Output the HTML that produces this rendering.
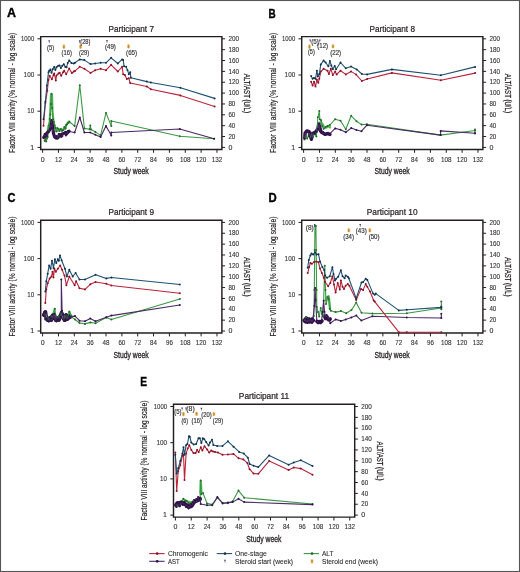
<!DOCTYPE html>
<html><head><meta charset="utf-8"><style>
html,body{margin:0;padding:0;background:#fff;}
body{width:520px;height:572px;overflow:hidden;}
svg{display:block;will-change:transform;filter:blur(0.3px);}
text{font-family:"Liberation Sans",sans-serif;}
</style></head><body>
<svg width="520" height="572" viewBox="0 0 520 572">
<rect x="0" y="0" width="520" height="572" fill="#fff"/>
<g transform="translate(0,0)">
<text x="6.90" y="16.90" font-size="12" text-anchor="start" fill="#000" stroke="#000" stroke-width="0.35" font-weight="bold" textLength="9.00" lengthAdjust="spacingAndGlyphs">A</text>
<text x="131.20" y="31.70" font-size="8.7" text-anchor="middle" fill="#231f20" stroke="#231f20" stroke-width="0.22" textLength="45.50" lengthAdjust="spacingAndGlyphs">Participant 7</text>
<path d="M40.7,36.6 H221.9 V149.4 H40.7 Z" fill="none" stroke="#231f20" stroke-width="1.45"/>
<path d="M37.5,38.80 H40.7" stroke="#231f20" stroke-width="1"/>
<text x="34.20" y="41.00" font-size="7" text-anchor="end" fill="#333" stroke="#333" stroke-width="0.12" textLength="13.20" lengthAdjust="spacingAndGlyphs">1000</text>
<path d="M37.5,75.00 H40.7" stroke="#231f20" stroke-width="1"/>
<text x="34.20" y="77.20" font-size="7" text-anchor="end" fill="#333" stroke="#333" stroke-width="0.12" textLength="10.60" lengthAdjust="spacingAndGlyphs">100</text>
<path d="M37.5,111.20 H40.7" stroke="#231f20" stroke-width="1"/>
<text x="34.20" y="113.40" font-size="7" text-anchor="end" fill="#333" stroke="#333" stroke-width="0.12" textLength="6.90" lengthAdjust="spacingAndGlyphs">10</text>
<path d="M37.5,147.40 H40.7" stroke="#231f20" stroke-width="1"/>
<text x="34.20" y="149.60" font-size="7" text-anchor="end" fill="#333" stroke="#333" stroke-width="0.12">1</text>
<path d="M221.9,147.40 H225.1" stroke="#231f20" stroke-width="1"/>
<text x="228.40" y="149.60" font-size="7" text-anchor="start" fill="#333" stroke="#333" stroke-width="0.12">0</text>
<path d="M221.9,136.54 H225.1" stroke="#231f20" stroke-width="1"/>
<text x="228.40" y="138.74" font-size="7" text-anchor="start" fill="#333" stroke="#333" stroke-width="0.12" textLength="6.90" lengthAdjust="spacingAndGlyphs">20</text>
<path d="M221.9,125.68 H225.1" stroke="#231f20" stroke-width="1"/>
<text x="228.40" y="127.88" font-size="7" text-anchor="start" fill="#333" stroke="#333" stroke-width="0.12" textLength="6.90" lengthAdjust="spacingAndGlyphs">40</text>
<path d="M221.9,114.82 H225.1" stroke="#231f20" stroke-width="1"/>
<text x="228.40" y="117.02" font-size="7" text-anchor="start" fill="#333" stroke="#333" stroke-width="0.12" textLength="6.90" lengthAdjust="spacingAndGlyphs">60</text>
<path d="M221.9,103.96 H225.1" stroke="#231f20" stroke-width="1"/>
<text x="228.40" y="106.16" font-size="7" text-anchor="start" fill="#333" stroke="#333" stroke-width="0.12" textLength="6.90" lengthAdjust="spacingAndGlyphs">80</text>
<path d="M221.9,93.10 H225.1" stroke="#231f20" stroke-width="1"/>
<text x="228.40" y="95.30" font-size="7" text-anchor="start" fill="#333" stroke="#333" stroke-width="0.12" textLength="10.60" lengthAdjust="spacingAndGlyphs">100</text>
<path d="M221.9,82.24 H225.1" stroke="#231f20" stroke-width="1"/>
<text x="228.40" y="84.44" font-size="7" text-anchor="start" fill="#333" stroke="#333" stroke-width="0.12" textLength="10.60" lengthAdjust="spacingAndGlyphs">120</text>
<path d="M221.9,71.38 H225.1" stroke="#231f20" stroke-width="1"/>
<text x="228.40" y="73.58" font-size="7" text-anchor="start" fill="#333" stroke="#333" stroke-width="0.12" textLength="10.60" lengthAdjust="spacingAndGlyphs">140</text>
<path d="M221.9,60.52 H225.1" stroke="#231f20" stroke-width="1"/>
<text x="228.40" y="62.72" font-size="7" text-anchor="start" fill="#333" stroke="#333" stroke-width="0.12" textLength="10.60" lengthAdjust="spacingAndGlyphs">160</text>
<path d="M221.9,49.66 H225.1" stroke="#231f20" stroke-width="1"/>
<text x="228.40" y="51.86" font-size="7" text-anchor="start" fill="#333" stroke="#333" stroke-width="0.12" textLength="10.60" lengthAdjust="spacingAndGlyphs">180</text>
<path d="M221.9,38.80 H225.1" stroke="#231f20" stroke-width="1"/>
<text x="228.40" y="41.00" font-size="7" text-anchor="start" fill="#333" stroke="#333" stroke-width="0.12" textLength="10.60" lengthAdjust="spacingAndGlyphs">200</text>
<path d="M42.60,149.4 V152.8" stroke="#231f20" stroke-width="1"/>
<text x="42.60" y="161.50" font-size="7" text-anchor="middle" fill="#333" stroke="#333" stroke-width="0.12">0</text>
<path d="M58.45,149.4 V152.8" stroke="#231f20" stroke-width="1"/>
<text x="58.45" y="161.50" font-size="7" text-anchor="middle" fill="#333" stroke="#333" stroke-width="0.12" textLength="6.90" lengthAdjust="spacingAndGlyphs">12</text>
<path d="M74.30,149.4 V152.8" stroke="#231f20" stroke-width="1"/>
<text x="74.30" y="161.50" font-size="7" text-anchor="middle" fill="#333" stroke="#333" stroke-width="0.12" textLength="6.90" lengthAdjust="spacingAndGlyphs">24</text>
<path d="M90.16,149.4 V152.8" stroke="#231f20" stroke-width="1"/>
<text x="90.16" y="161.50" font-size="7" text-anchor="middle" fill="#333" stroke="#333" stroke-width="0.12" textLength="6.90" lengthAdjust="spacingAndGlyphs">36</text>
<path d="M106.01,149.4 V152.8" stroke="#231f20" stroke-width="1"/>
<text x="106.01" y="161.50" font-size="7" text-anchor="middle" fill="#333" stroke="#333" stroke-width="0.12" textLength="6.90" lengthAdjust="spacingAndGlyphs">48</text>
<path d="M121.86,149.4 V152.8" stroke="#231f20" stroke-width="1"/>
<text x="121.86" y="161.50" font-size="7" text-anchor="middle" fill="#333" stroke="#333" stroke-width="0.12" textLength="6.90" lengthAdjust="spacingAndGlyphs">60</text>
<path d="M137.71,149.4 V152.8" stroke="#231f20" stroke-width="1"/>
<text x="137.71" y="161.50" font-size="7" text-anchor="middle" fill="#333" stroke="#333" stroke-width="0.12" textLength="6.90" lengthAdjust="spacingAndGlyphs">72</text>
<path d="M153.56,149.4 V152.8" stroke="#231f20" stroke-width="1"/>
<text x="153.56" y="161.50" font-size="7" text-anchor="middle" fill="#333" stroke="#333" stroke-width="0.12" textLength="6.90" lengthAdjust="spacingAndGlyphs">84</text>
<path d="M169.42,149.4 V152.8" stroke="#231f20" stroke-width="1"/>
<text x="169.42" y="161.50" font-size="7" text-anchor="middle" fill="#333" stroke="#333" stroke-width="0.12" textLength="6.90" lengthAdjust="spacingAndGlyphs">96</text>
<path d="M185.27,149.4 V152.8" stroke="#231f20" stroke-width="1"/>
<text x="185.27" y="161.50" font-size="7" text-anchor="middle" fill="#333" stroke="#333" stroke-width="0.12" textLength="10.60" lengthAdjust="spacingAndGlyphs">108</text>
<path d="M201.12,149.4 V152.8" stroke="#231f20" stroke-width="1"/>
<text x="201.12" y="161.50" font-size="7" text-anchor="middle" fill="#333" stroke="#333" stroke-width="0.12" textLength="10.60" lengthAdjust="spacingAndGlyphs">120</text>
<path d="M216.97,149.4 V152.8" stroke="#231f20" stroke-width="1"/>
<text x="216.97" y="161.50" font-size="7" text-anchor="middle" fill="#333" stroke="#333" stroke-width="0.12" textLength="10.60" lengthAdjust="spacingAndGlyphs">132</text>
<text x="131.10" y="174.20" font-size="9" text-anchor="middle" fill="#231f20" stroke="#231f20" stroke-width="0.3" textLength="35.20" lengthAdjust="spacingAndGlyphs">Study week</text>
<text transform="translate(14.6,92.9) rotate(-90)" x="0.00" y="0.00" font-size="8.8" text-anchor="middle" fill="#231f20" stroke="#231f20" stroke-width="0.18" textLength="120.00" lengthAdjust="spacingAndGlyphs">Factor VIII activity (% normal - log scale)</text>
<text transform="translate(244.2,93.3) rotate(90)" x="0.00" y="0.00" font-size="8.6" text-anchor="middle" fill="#231f20" stroke="#231f20" stroke-width="0.28" textLength="39.20" lengthAdjust="spacingAndGlyphs">ALT/AST (U/L)</text>
</g>
<g transform="translate(261,0)">
<text x="7.40" y="17.90" font-size="12" text-anchor="start" fill="#000" stroke="#000" stroke-width="0.35" font-weight="bold" textLength="7.20" lengthAdjust="spacingAndGlyphs">B</text>
<text x="131.20" y="31.70" font-size="8.7" text-anchor="middle" fill="#231f20" stroke="#231f20" stroke-width="0.22" textLength="45.50" lengthAdjust="spacingAndGlyphs">Participant 8</text>
<path d="M40.7,36.6 H221.9 V149.4 H40.7 Z" fill="none" stroke="#231f20" stroke-width="1.45"/>
<path d="M37.5,38.80 H40.7" stroke="#231f20" stroke-width="1"/>
<text x="34.20" y="41.00" font-size="7" text-anchor="end" fill="#333" stroke="#333" stroke-width="0.12" textLength="13.20" lengthAdjust="spacingAndGlyphs">1000</text>
<path d="M37.5,75.00 H40.7" stroke="#231f20" stroke-width="1"/>
<text x="34.20" y="77.20" font-size="7" text-anchor="end" fill="#333" stroke="#333" stroke-width="0.12" textLength="10.60" lengthAdjust="spacingAndGlyphs">100</text>
<path d="M37.5,111.20 H40.7" stroke="#231f20" stroke-width="1"/>
<text x="34.20" y="113.40" font-size="7" text-anchor="end" fill="#333" stroke="#333" stroke-width="0.12" textLength="6.90" lengthAdjust="spacingAndGlyphs">10</text>
<path d="M37.5,147.40 H40.7" stroke="#231f20" stroke-width="1"/>
<text x="34.20" y="149.60" font-size="7" text-anchor="end" fill="#333" stroke="#333" stroke-width="0.12">1</text>
<path d="M221.9,147.40 H225.1" stroke="#231f20" stroke-width="1"/>
<text x="228.40" y="149.60" font-size="7" text-anchor="start" fill="#333" stroke="#333" stroke-width="0.12">0</text>
<path d="M221.9,136.54 H225.1" stroke="#231f20" stroke-width="1"/>
<text x="228.40" y="138.74" font-size="7" text-anchor="start" fill="#333" stroke="#333" stroke-width="0.12" textLength="6.90" lengthAdjust="spacingAndGlyphs">20</text>
<path d="M221.9,125.68 H225.1" stroke="#231f20" stroke-width="1"/>
<text x="228.40" y="127.88" font-size="7" text-anchor="start" fill="#333" stroke="#333" stroke-width="0.12" textLength="6.90" lengthAdjust="spacingAndGlyphs">40</text>
<path d="M221.9,114.82 H225.1" stroke="#231f20" stroke-width="1"/>
<text x="228.40" y="117.02" font-size="7" text-anchor="start" fill="#333" stroke="#333" stroke-width="0.12" textLength="6.90" lengthAdjust="spacingAndGlyphs">60</text>
<path d="M221.9,103.96 H225.1" stroke="#231f20" stroke-width="1"/>
<text x="228.40" y="106.16" font-size="7" text-anchor="start" fill="#333" stroke="#333" stroke-width="0.12" textLength="6.90" lengthAdjust="spacingAndGlyphs">80</text>
<path d="M221.9,93.10 H225.1" stroke="#231f20" stroke-width="1"/>
<text x="228.40" y="95.30" font-size="7" text-anchor="start" fill="#333" stroke="#333" stroke-width="0.12" textLength="10.60" lengthAdjust="spacingAndGlyphs">100</text>
<path d="M221.9,82.24 H225.1" stroke="#231f20" stroke-width="1"/>
<text x="228.40" y="84.44" font-size="7" text-anchor="start" fill="#333" stroke="#333" stroke-width="0.12" textLength="10.60" lengthAdjust="spacingAndGlyphs">120</text>
<path d="M221.9,71.38 H225.1" stroke="#231f20" stroke-width="1"/>
<text x="228.40" y="73.58" font-size="7" text-anchor="start" fill="#333" stroke="#333" stroke-width="0.12" textLength="10.60" lengthAdjust="spacingAndGlyphs">140</text>
<path d="M221.9,60.52 H225.1" stroke="#231f20" stroke-width="1"/>
<text x="228.40" y="62.72" font-size="7" text-anchor="start" fill="#333" stroke="#333" stroke-width="0.12" textLength="10.60" lengthAdjust="spacingAndGlyphs">160</text>
<path d="M221.9,49.66 H225.1" stroke="#231f20" stroke-width="1"/>
<text x="228.40" y="51.86" font-size="7" text-anchor="start" fill="#333" stroke="#333" stroke-width="0.12" textLength="10.60" lengthAdjust="spacingAndGlyphs">180</text>
<path d="M221.9,38.80 H225.1" stroke="#231f20" stroke-width="1"/>
<text x="228.40" y="41.00" font-size="7" text-anchor="start" fill="#333" stroke="#333" stroke-width="0.12" textLength="10.60" lengthAdjust="spacingAndGlyphs">200</text>
<path d="M42.60,149.4 V152.8" stroke="#231f20" stroke-width="1"/>
<text x="42.60" y="161.50" font-size="7" text-anchor="middle" fill="#333" stroke="#333" stroke-width="0.12">0</text>
<path d="M58.45,149.4 V152.8" stroke="#231f20" stroke-width="1"/>
<text x="58.45" y="161.50" font-size="7" text-anchor="middle" fill="#333" stroke="#333" stroke-width="0.12" textLength="6.90" lengthAdjust="spacingAndGlyphs">12</text>
<path d="M74.30,149.4 V152.8" stroke="#231f20" stroke-width="1"/>
<text x="74.30" y="161.50" font-size="7" text-anchor="middle" fill="#333" stroke="#333" stroke-width="0.12" textLength="6.90" lengthAdjust="spacingAndGlyphs">24</text>
<path d="M90.16,149.4 V152.8" stroke="#231f20" stroke-width="1"/>
<text x="90.16" y="161.50" font-size="7" text-anchor="middle" fill="#333" stroke="#333" stroke-width="0.12" textLength="6.90" lengthAdjust="spacingAndGlyphs">36</text>
<path d="M106.01,149.4 V152.8" stroke="#231f20" stroke-width="1"/>
<text x="106.01" y="161.50" font-size="7" text-anchor="middle" fill="#333" stroke="#333" stroke-width="0.12" textLength="6.90" lengthAdjust="spacingAndGlyphs">48</text>
<path d="M121.86,149.4 V152.8" stroke="#231f20" stroke-width="1"/>
<text x="121.86" y="161.50" font-size="7" text-anchor="middle" fill="#333" stroke="#333" stroke-width="0.12" textLength="6.90" lengthAdjust="spacingAndGlyphs">60</text>
<path d="M137.71,149.4 V152.8" stroke="#231f20" stroke-width="1"/>
<text x="137.71" y="161.50" font-size="7" text-anchor="middle" fill="#333" stroke="#333" stroke-width="0.12" textLength="6.90" lengthAdjust="spacingAndGlyphs">72</text>
<path d="M153.56,149.4 V152.8" stroke="#231f20" stroke-width="1"/>
<text x="153.56" y="161.50" font-size="7" text-anchor="middle" fill="#333" stroke="#333" stroke-width="0.12" textLength="6.90" lengthAdjust="spacingAndGlyphs">84</text>
<path d="M169.42,149.4 V152.8" stroke="#231f20" stroke-width="1"/>
<text x="169.42" y="161.50" font-size="7" text-anchor="middle" fill="#333" stroke="#333" stroke-width="0.12" textLength="6.90" lengthAdjust="spacingAndGlyphs">96</text>
<path d="M185.27,149.4 V152.8" stroke="#231f20" stroke-width="1"/>
<text x="185.27" y="161.50" font-size="7" text-anchor="middle" fill="#333" stroke="#333" stroke-width="0.12" textLength="10.60" lengthAdjust="spacingAndGlyphs">108</text>
<path d="M201.12,149.4 V152.8" stroke="#231f20" stroke-width="1"/>
<text x="201.12" y="161.50" font-size="7" text-anchor="middle" fill="#333" stroke="#333" stroke-width="0.12" textLength="10.60" lengthAdjust="spacingAndGlyphs">120</text>
<path d="M216.97,149.4 V152.8" stroke="#231f20" stroke-width="1"/>
<text x="216.97" y="161.50" font-size="7" text-anchor="middle" fill="#333" stroke="#333" stroke-width="0.12" textLength="10.60" lengthAdjust="spacingAndGlyphs">132</text>
<text x="131.10" y="174.20" font-size="9" text-anchor="middle" fill="#231f20" stroke="#231f20" stroke-width="0.3" textLength="35.20" lengthAdjust="spacingAndGlyphs">Study week</text>
<text transform="translate(14.6,92.9) rotate(-90)" x="0.00" y="0.00" font-size="8.8" text-anchor="middle" fill="#231f20" stroke="#231f20" stroke-width="0.18" textLength="120.00" lengthAdjust="spacingAndGlyphs">Factor VIII activity (% normal - log scale)</text>
<text transform="translate(244.2,93.3) rotate(90)" x="0.00" y="0.00" font-size="8.6" text-anchor="middle" fill="#231f20" stroke="#231f20" stroke-width="0.28" textLength="39.20" lengthAdjust="spacingAndGlyphs">ALT/AST (U/L)</text>
</g>
<g transform="translate(0,183.6)">
<text x="7.40" y="18.00" font-size="12" text-anchor="start" fill="#000" stroke="#000" stroke-width="0.35" font-weight="bold" textLength="8.00" lengthAdjust="spacingAndGlyphs">C</text>
<text x="131.20" y="31.70" font-size="8.7" text-anchor="middle" fill="#231f20" stroke="#231f20" stroke-width="0.22" textLength="45.50" lengthAdjust="spacingAndGlyphs">Participant 9</text>
<path d="M40.7,36.6 H221.9 V149.4 H40.7 Z" fill="none" stroke="#231f20" stroke-width="1.45"/>
<path d="M37.5,38.80 H40.7" stroke="#231f20" stroke-width="1"/>
<text x="34.20" y="41.00" font-size="7" text-anchor="end" fill="#333" stroke="#333" stroke-width="0.12" textLength="13.20" lengthAdjust="spacingAndGlyphs">1000</text>
<path d="M37.5,75.00 H40.7" stroke="#231f20" stroke-width="1"/>
<text x="34.20" y="77.20" font-size="7" text-anchor="end" fill="#333" stroke="#333" stroke-width="0.12" textLength="10.60" lengthAdjust="spacingAndGlyphs">100</text>
<path d="M37.5,111.20 H40.7" stroke="#231f20" stroke-width="1"/>
<text x="34.20" y="113.40" font-size="7" text-anchor="end" fill="#333" stroke="#333" stroke-width="0.12" textLength="6.90" lengthAdjust="spacingAndGlyphs">10</text>
<path d="M37.5,147.40 H40.7" stroke="#231f20" stroke-width="1"/>
<text x="34.20" y="149.60" font-size="7" text-anchor="end" fill="#333" stroke="#333" stroke-width="0.12">1</text>
<path d="M221.9,147.40 H225.1" stroke="#231f20" stroke-width="1"/>
<text x="228.40" y="149.60" font-size="7" text-anchor="start" fill="#333" stroke="#333" stroke-width="0.12">0</text>
<path d="M221.9,136.54 H225.1" stroke="#231f20" stroke-width="1"/>
<text x="228.40" y="138.74" font-size="7" text-anchor="start" fill="#333" stroke="#333" stroke-width="0.12" textLength="6.90" lengthAdjust="spacingAndGlyphs">20</text>
<path d="M221.9,125.68 H225.1" stroke="#231f20" stroke-width="1"/>
<text x="228.40" y="127.88" font-size="7" text-anchor="start" fill="#333" stroke="#333" stroke-width="0.12" textLength="6.90" lengthAdjust="spacingAndGlyphs">40</text>
<path d="M221.9,114.82 H225.1" stroke="#231f20" stroke-width="1"/>
<text x="228.40" y="117.02" font-size="7" text-anchor="start" fill="#333" stroke="#333" stroke-width="0.12" textLength="6.90" lengthAdjust="spacingAndGlyphs">60</text>
<path d="M221.9,103.96 H225.1" stroke="#231f20" stroke-width="1"/>
<text x="228.40" y="106.16" font-size="7" text-anchor="start" fill="#333" stroke="#333" stroke-width="0.12" textLength="6.90" lengthAdjust="spacingAndGlyphs">80</text>
<path d="M221.9,93.10 H225.1" stroke="#231f20" stroke-width="1"/>
<text x="228.40" y="95.30" font-size="7" text-anchor="start" fill="#333" stroke="#333" stroke-width="0.12" textLength="10.60" lengthAdjust="spacingAndGlyphs">100</text>
<path d="M221.9,82.24 H225.1" stroke="#231f20" stroke-width="1"/>
<text x="228.40" y="84.44" font-size="7" text-anchor="start" fill="#333" stroke="#333" stroke-width="0.12" textLength="10.60" lengthAdjust="spacingAndGlyphs">120</text>
<path d="M221.9,71.38 H225.1" stroke="#231f20" stroke-width="1"/>
<text x="228.40" y="73.58" font-size="7" text-anchor="start" fill="#333" stroke="#333" stroke-width="0.12" textLength="10.60" lengthAdjust="spacingAndGlyphs">140</text>
<path d="M221.9,60.52 H225.1" stroke="#231f20" stroke-width="1"/>
<text x="228.40" y="62.72" font-size="7" text-anchor="start" fill="#333" stroke="#333" stroke-width="0.12" textLength="10.60" lengthAdjust="spacingAndGlyphs">160</text>
<path d="M221.9,49.66 H225.1" stroke="#231f20" stroke-width="1"/>
<text x="228.40" y="51.86" font-size="7" text-anchor="start" fill="#333" stroke="#333" stroke-width="0.12" textLength="10.60" lengthAdjust="spacingAndGlyphs">180</text>
<path d="M221.9,38.80 H225.1" stroke="#231f20" stroke-width="1"/>
<text x="228.40" y="41.00" font-size="7" text-anchor="start" fill="#333" stroke="#333" stroke-width="0.12" textLength="10.60" lengthAdjust="spacingAndGlyphs">200</text>
<path d="M42.60,149.4 V152.8" stroke="#231f20" stroke-width="1"/>
<text x="42.60" y="161.50" font-size="7" text-anchor="middle" fill="#333" stroke="#333" stroke-width="0.12">0</text>
<path d="M58.45,149.4 V152.8" stroke="#231f20" stroke-width="1"/>
<text x="58.45" y="161.50" font-size="7" text-anchor="middle" fill="#333" stroke="#333" stroke-width="0.12" textLength="6.90" lengthAdjust="spacingAndGlyphs">12</text>
<path d="M74.30,149.4 V152.8" stroke="#231f20" stroke-width="1"/>
<text x="74.30" y="161.50" font-size="7" text-anchor="middle" fill="#333" stroke="#333" stroke-width="0.12" textLength="6.90" lengthAdjust="spacingAndGlyphs">24</text>
<path d="M90.16,149.4 V152.8" stroke="#231f20" stroke-width="1"/>
<text x="90.16" y="161.50" font-size="7" text-anchor="middle" fill="#333" stroke="#333" stroke-width="0.12" textLength="6.90" lengthAdjust="spacingAndGlyphs">36</text>
<path d="M106.01,149.4 V152.8" stroke="#231f20" stroke-width="1"/>
<text x="106.01" y="161.50" font-size="7" text-anchor="middle" fill="#333" stroke="#333" stroke-width="0.12" textLength="6.90" lengthAdjust="spacingAndGlyphs">48</text>
<path d="M121.86,149.4 V152.8" stroke="#231f20" stroke-width="1"/>
<text x="121.86" y="161.50" font-size="7" text-anchor="middle" fill="#333" stroke="#333" stroke-width="0.12" textLength="6.90" lengthAdjust="spacingAndGlyphs">60</text>
<path d="M137.71,149.4 V152.8" stroke="#231f20" stroke-width="1"/>
<text x="137.71" y="161.50" font-size="7" text-anchor="middle" fill="#333" stroke="#333" stroke-width="0.12" textLength="6.90" lengthAdjust="spacingAndGlyphs">72</text>
<path d="M153.56,149.4 V152.8" stroke="#231f20" stroke-width="1"/>
<text x="153.56" y="161.50" font-size="7" text-anchor="middle" fill="#333" stroke="#333" stroke-width="0.12" textLength="6.90" lengthAdjust="spacingAndGlyphs">84</text>
<path d="M169.42,149.4 V152.8" stroke="#231f20" stroke-width="1"/>
<text x="169.42" y="161.50" font-size="7" text-anchor="middle" fill="#333" stroke="#333" stroke-width="0.12" textLength="6.90" lengthAdjust="spacingAndGlyphs">96</text>
<path d="M185.27,149.4 V152.8" stroke="#231f20" stroke-width="1"/>
<text x="185.27" y="161.50" font-size="7" text-anchor="middle" fill="#333" stroke="#333" stroke-width="0.12" textLength="10.60" lengthAdjust="spacingAndGlyphs">108</text>
<path d="M201.12,149.4 V152.8" stroke="#231f20" stroke-width="1"/>
<text x="201.12" y="161.50" font-size="7" text-anchor="middle" fill="#333" stroke="#333" stroke-width="0.12" textLength="10.60" lengthAdjust="spacingAndGlyphs">120</text>
<path d="M216.97,149.4 V152.8" stroke="#231f20" stroke-width="1"/>
<text x="216.97" y="161.50" font-size="7" text-anchor="middle" fill="#333" stroke="#333" stroke-width="0.12" textLength="10.60" lengthAdjust="spacingAndGlyphs">132</text>
<text x="131.10" y="174.20" font-size="9" text-anchor="middle" fill="#231f20" stroke="#231f20" stroke-width="0.3" textLength="35.20" lengthAdjust="spacingAndGlyphs">Study week</text>
<text transform="translate(14.6,92.9) rotate(-90)" x="0.00" y="0.00" font-size="8.8" text-anchor="middle" fill="#231f20" stroke="#231f20" stroke-width="0.18" textLength="120.00" lengthAdjust="spacingAndGlyphs">Factor VIII activity (% normal - log scale)</text>
<text transform="translate(244.2,93.3) rotate(90)" x="0.00" y="0.00" font-size="8.6" text-anchor="middle" fill="#231f20" stroke="#231f20" stroke-width="0.28" textLength="39.20" lengthAdjust="spacingAndGlyphs">ALT/AST (U/L)</text>
</g>
<g transform="translate(261,183.6)">
<text x="7.60" y="18.00" font-size="12" text-anchor="start" fill="#000" stroke="#000" stroke-width="0.35" font-weight="bold" textLength="8.20" lengthAdjust="spacingAndGlyphs">D</text>
<text x="131.20" y="31.70" font-size="8.7" text-anchor="middle" fill="#231f20" stroke="#231f20" stroke-width="0.22" textLength="50.80" lengthAdjust="spacingAndGlyphs">Participant 10</text>
<path d="M40.7,36.6 H221.9 V149.4 H40.7 Z" fill="none" stroke="#231f20" stroke-width="1.45"/>
<path d="M37.5,38.80 H40.7" stroke="#231f20" stroke-width="1"/>
<text x="34.20" y="41.00" font-size="7" text-anchor="end" fill="#333" stroke="#333" stroke-width="0.12" textLength="13.20" lengthAdjust="spacingAndGlyphs">1000</text>
<path d="M37.5,75.00 H40.7" stroke="#231f20" stroke-width="1"/>
<text x="34.20" y="77.20" font-size="7" text-anchor="end" fill="#333" stroke="#333" stroke-width="0.12" textLength="10.60" lengthAdjust="spacingAndGlyphs">100</text>
<path d="M37.5,111.20 H40.7" stroke="#231f20" stroke-width="1"/>
<text x="34.20" y="113.40" font-size="7" text-anchor="end" fill="#333" stroke="#333" stroke-width="0.12" textLength="6.90" lengthAdjust="spacingAndGlyphs">10</text>
<path d="M37.5,147.40 H40.7" stroke="#231f20" stroke-width="1"/>
<text x="34.20" y="149.60" font-size="7" text-anchor="end" fill="#333" stroke="#333" stroke-width="0.12">1</text>
<path d="M221.9,147.40 H225.1" stroke="#231f20" stroke-width="1"/>
<text x="228.40" y="149.60" font-size="7" text-anchor="start" fill="#333" stroke="#333" stroke-width="0.12">0</text>
<path d="M221.9,136.54 H225.1" stroke="#231f20" stroke-width="1"/>
<text x="228.40" y="138.74" font-size="7" text-anchor="start" fill="#333" stroke="#333" stroke-width="0.12" textLength="6.90" lengthAdjust="spacingAndGlyphs">20</text>
<path d="M221.9,125.68 H225.1" stroke="#231f20" stroke-width="1"/>
<text x="228.40" y="127.88" font-size="7" text-anchor="start" fill="#333" stroke="#333" stroke-width="0.12" textLength="6.90" lengthAdjust="spacingAndGlyphs">40</text>
<path d="M221.9,114.82 H225.1" stroke="#231f20" stroke-width="1"/>
<text x="228.40" y="117.02" font-size="7" text-anchor="start" fill="#333" stroke="#333" stroke-width="0.12" textLength="6.90" lengthAdjust="spacingAndGlyphs">60</text>
<path d="M221.9,103.96 H225.1" stroke="#231f20" stroke-width="1"/>
<text x="228.40" y="106.16" font-size="7" text-anchor="start" fill="#333" stroke="#333" stroke-width="0.12" textLength="6.90" lengthAdjust="spacingAndGlyphs">80</text>
<path d="M221.9,93.10 H225.1" stroke="#231f20" stroke-width="1"/>
<text x="228.40" y="95.30" font-size="7" text-anchor="start" fill="#333" stroke="#333" stroke-width="0.12" textLength="10.60" lengthAdjust="spacingAndGlyphs">100</text>
<path d="M221.9,82.24 H225.1" stroke="#231f20" stroke-width="1"/>
<text x="228.40" y="84.44" font-size="7" text-anchor="start" fill="#333" stroke="#333" stroke-width="0.12" textLength="10.60" lengthAdjust="spacingAndGlyphs">120</text>
<path d="M221.9,71.38 H225.1" stroke="#231f20" stroke-width="1"/>
<text x="228.40" y="73.58" font-size="7" text-anchor="start" fill="#333" stroke="#333" stroke-width="0.12" textLength="10.60" lengthAdjust="spacingAndGlyphs">140</text>
<path d="M221.9,60.52 H225.1" stroke="#231f20" stroke-width="1"/>
<text x="228.40" y="62.72" font-size="7" text-anchor="start" fill="#333" stroke="#333" stroke-width="0.12" textLength="10.60" lengthAdjust="spacingAndGlyphs">160</text>
<path d="M221.9,49.66 H225.1" stroke="#231f20" stroke-width="1"/>
<text x="228.40" y="51.86" font-size="7" text-anchor="start" fill="#333" stroke="#333" stroke-width="0.12" textLength="10.60" lengthAdjust="spacingAndGlyphs">180</text>
<path d="M221.9,38.80 H225.1" stroke="#231f20" stroke-width="1"/>
<text x="228.40" y="41.00" font-size="7" text-anchor="start" fill="#333" stroke="#333" stroke-width="0.12" textLength="10.60" lengthAdjust="spacingAndGlyphs">200</text>
<path d="M42.60,149.4 V152.8" stroke="#231f20" stroke-width="1"/>
<text x="42.60" y="161.50" font-size="7" text-anchor="middle" fill="#333" stroke="#333" stroke-width="0.12">0</text>
<path d="M58.45,149.4 V152.8" stroke="#231f20" stroke-width="1"/>
<text x="58.45" y="161.50" font-size="7" text-anchor="middle" fill="#333" stroke="#333" stroke-width="0.12" textLength="6.90" lengthAdjust="spacingAndGlyphs">12</text>
<path d="M74.30,149.4 V152.8" stroke="#231f20" stroke-width="1"/>
<text x="74.30" y="161.50" font-size="7" text-anchor="middle" fill="#333" stroke="#333" stroke-width="0.12" textLength="6.90" lengthAdjust="spacingAndGlyphs">24</text>
<path d="M90.16,149.4 V152.8" stroke="#231f20" stroke-width="1"/>
<text x="90.16" y="161.50" font-size="7" text-anchor="middle" fill="#333" stroke="#333" stroke-width="0.12" textLength="6.90" lengthAdjust="spacingAndGlyphs">36</text>
<path d="M106.01,149.4 V152.8" stroke="#231f20" stroke-width="1"/>
<text x="106.01" y="161.50" font-size="7" text-anchor="middle" fill="#333" stroke="#333" stroke-width="0.12" textLength="6.90" lengthAdjust="spacingAndGlyphs">48</text>
<path d="M121.86,149.4 V152.8" stroke="#231f20" stroke-width="1"/>
<text x="121.86" y="161.50" font-size="7" text-anchor="middle" fill="#333" stroke="#333" stroke-width="0.12" textLength="6.90" lengthAdjust="spacingAndGlyphs">60</text>
<path d="M137.71,149.4 V152.8" stroke="#231f20" stroke-width="1"/>
<text x="137.71" y="161.50" font-size="7" text-anchor="middle" fill="#333" stroke="#333" stroke-width="0.12" textLength="6.90" lengthAdjust="spacingAndGlyphs">72</text>
<path d="M153.56,149.4 V152.8" stroke="#231f20" stroke-width="1"/>
<text x="153.56" y="161.50" font-size="7" text-anchor="middle" fill="#333" stroke="#333" stroke-width="0.12" textLength="6.90" lengthAdjust="spacingAndGlyphs">84</text>
<path d="M169.42,149.4 V152.8" stroke="#231f20" stroke-width="1"/>
<text x="169.42" y="161.50" font-size="7" text-anchor="middle" fill="#333" stroke="#333" stroke-width="0.12" textLength="6.90" lengthAdjust="spacingAndGlyphs">96</text>
<path d="M185.27,149.4 V152.8" stroke="#231f20" stroke-width="1"/>
<text x="185.27" y="161.50" font-size="7" text-anchor="middle" fill="#333" stroke="#333" stroke-width="0.12" textLength="10.60" lengthAdjust="spacingAndGlyphs">108</text>
<path d="M201.12,149.4 V152.8" stroke="#231f20" stroke-width="1"/>
<text x="201.12" y="161.50" font-size="7" text-anchor="middle" fill="#333" stroke="#333" stroke-width="0.12" textLength="10.60" lengthAdjust="spacingAndGlyphs">120</text>
<path d="M216.97,149.4 V152.8" stroke="#231f20" stroke-width="1"/>
<text x="216.97" y="161.50" font-size="7" text-anchor="middle" fill="#333" stroke="#333" stroke-width="0.12" textLength="10.60" lengthAdjust="spacingAndGlyphs">132</text>
<text x="131.10" y="174.20" font-size="9" text-anchor="middle" fill="#231f20" stroke="#231f20" stroke-width="0.3" textLength="35.20" lengthAdjust="spacingAndGlyphs">Study week</text>
<text transform="translate(14.6,92.9) rotate(-90)" x="0.00" y="0.00" font-size="8.8" text-anchor="middle" fill="#231f20" stroke="#231f20" stroke-width="0.18" textLength="120.00" lengthAdjust="spacingAndGlyphs">Factor VIII activity (% normal - log scale)</text>
<text transform="translate(244.2,93.3) rotate(90)" x="0.00" y="0.00" font-size="8.6" text-anchor="middle" fill="#231f20" stroke="#231f20" stroke-width="0.28" textLength="39.20" lengthAdjust="spacingAndGlyphs">ALT/AST (U/L)</text>
</g>
<g transform="translate(132.8,367.7)">
<text x="7.40" y="18.10" font-size="12" text-anchor="start" fill="#000" stroke="#000" stroke-width="0.35" font-weight="bold" textLength="6.80" lengthAdjust="spacingAndGlyphs">E</text>
<text x="131.20" y="31.70" font-size="8.7" text-anchor="middle" fill="#231f20" stroke="#231f20" stroke-width="0.22" textLength="50.30" lengthAdjust="spacingAndGlyphs">Participant 11</text>
<path d="M40.7,36.6 H221.9 V149.4 H40.7 Z" fill="none" stroke="#231f20" stroke-width="1.45"/>
<path d="M37.5,38.80 H40.7" stroke="#231f20" stroke-width="1"/>
<text x="34.20" y="41.00" font-size="7" text-anchor="end" fill="#333" stroke="#333" stroke-width="0.12" textLength="13.20" lengthAdjust="spacingAndGlyphs">1000</text>
<path d="M37.5,75.00 H40.7" stroke="#231f20" stroke-width="1"/>
<text x="34.20" y="77.20" font-size="7" text-anchor="end" fill="#333" stroke="#333" stroke-width="0.12" textLength="10.60" lengthAdjust="spacingAndGlyphs">100</text>
<path d="M37.5,111.20 H40.7" stroke="#231f20" stroke-width="1"/>
<text x="34.20" y="113.40" font-size="7" text-anchor="end" fill="#333" stroke="#333" stroke-width="0.12" textLength="6.90" lengthAdjust="spacingAndGlyphs">10</text>
<path d="M37.5,147.40 H40.7" stroke="#231f20" stroke-width="1"/>
<text x="34.20" y="149.60" font-size="7" text-anchor="end" fill="#333" stroke="#333" stroke-width="0.12">1</text>
<path d="M221.9,147.40 H225.1" stroke="#231f20" stroke-width="1"/>
<text x="228.40" y="149.60" font-size="7" text-anchor="start" fill="#333" stroke="#333" stroke-width="0.12">0</text>
<path d="M221.9,136.54 H225.1" stroke="#231f20" stroke-width="1"/>
<text x="228.40" y="138.74" font-size="7" text-anchor="start" fill="#333" stroke="#333" stroke-width="0.12" textLength="6.90" lengthAdjust="spacingAndGlyphs">20</text>
<path d="M221.9,125.68 H225.1" stroke="#231f20" stroke-width="1"/>
<text x="228.40" y="127.88" font-size="7" text-anchor="start" fill="#333" stroke="#333" stroke-width="0.12" textLength="6.90" lengthAdjust="spacingAndGlyphs">40</text>
<path d="M221.9,114.82 H225.1" stroke="#231f20" stroke-width="1"/>
<text x="228.40" y="117.02" font-size="7" text-anchor="start" fill="#333" stroke="#333" stroke-width="0.12" textLength="6.90" lengthAdjust="spacingAndGlyphs">60</text>
<path d="M221.9,103.96 H225.1" stroke="#231f20" stroke-width="1"/>
<text x="228.40" y="106.16" font-size="7" text-anchor="start" fill="#333" stroke="#333" stroke-width="0.12" textLength="6.90" lengthAdjust="spacingAndGlyphs">80</text>
<path d="M221.9,93.10 H225.1" stroke="#231f20" stroke-width="1"/>
<text x="228.40" y="95.30" font-size="7" text-anchor="start" fill="#333" stroke="#333" stroke-width="0.12" textLength="10.60" lengthAdjust="spacingAndGlyphs">100</text>
<path d="M221.9,82.24 H225.1" stroke="#231f20" stroke-width="1"/>
<text x="228.40" y="84.44" font-size="7" text-anchor="start" fill="#333" stroke="#333" stroke-width="0.12" textLength="10.60" lengthAdjust="spacingAndGlyphs">120</text>
<path d="M221.9,71.38 H225.1" stroke="#231f20" stroke-width="1"/>
<text x="228.40" y="73.58" font-size="7" text-anchor="start" fill="#333" stroke="#333" stroke-width="0.12" textLength="10.60" lengthAdjust="spacingAndGlyphs">140</text>
<path d="M221.9,60.52 H225.1" stroke="#231f20" stroke-width="1"/>
<text x="228.40" y="62.72" font-size="7" text-anchor="start" fill="#333" stroke="#333" stroke-width="0.12" textLength="10.60" lengthAdjust="spacingAndGlyphs">160</text>
<path d="M221.9,49.66 H225.1" stroke="#231f20" stroke-width="1"/>
<text x="228.40" y="51.86" font-size="7" text-anchor="start" fill="#333" stroke="#333" stroke-width="0.12" textLength="10.60" lengthAdjust="spacingAndGlyphs">180</text>
<path d="M221.9,38.80 H225.1" stroke="#231f20" stroke-width="1"/>
<text x="228.40" y="41.00" font-size="7" text-anchor="start" fill="#333" stroke="#333" stroke-width="0.12" textLength="10.60" lengthAdjust="spacingAndGlyphs">200</text>
<path d="M42.60,149.4 V152.8" stroke="#231f20" stroke-width="1"/>
<text x="42.60" y="161.50" font-size="7" text-anchor="middle" fill="#333" stroke="#333" stroke-width="0.12">0</text>
<path d="M58.45,149.4 V152.8" stroke="#231f20" stroke-width="1"/>
<text x="58.45" y="161.50" font-size="7" text-anchor="middle" fill="#333" stroke="#333" stroke-width="0.12" textLength="6.90" lengthAdjust="spacingAndGlyphs">12</text>
<path d="M74.30,149.4 V152.8" stroke="#231f20" stroke-width="1"/>
<text x="74.30" y="161.50" font-size="7" text-anchor="middle" fill="#333" stroke="#333" stroke-width="0.12" textLength="6.90" lengthAdjust="spacingAndGlyphs">24</text>
<path d="M90.16,149.4 V152.8" stroke="#231f20" stroke-width="1"/>
<text x="90.16" y="161.50" font-size="7" text-anchor="middle" fill="#333" stroke="#333" stroke-width="0.12" textLength="6.90" lengthAdjust="spacingAndGlyphs">36</text>
<path d="M106.01,149.4 V152.8" stroke="#231f20" stroke-width="1"/>
<text x="106.01" y="161.50" font-size="7" text-anchor="middle" fill="#333" stroke="#333" stroke-width="0.12" textLength="6.90" lengthAdjust="spacingAndGlyphs">48</text>
<path d="M121.86,149.4 V152.8" stroke="#231f20" stroke-width="1"/>
<text x="121.86" y="161.50" font-size="7" text-anchor="middle" fill="#333" stroke="#333" stroke-width="0.12" textLength="6.90" lengthAdjust="spacingAndGlyphs">60</text>
<path d="M137.71,149.4 V152.8" stroke="#231f20" stroke-width="1"/>
<text x="137.71" y="161.50" font-size="7" text-anchor="middle" fill="#333" stroke="#333" stroke-width="0.12" textLength="6.90" lengthAdjust="spacingAndGlyphs">72</text>
<path d="M153.56,149.4 V152.8" stroke="#231f20" stroke-width="1"/>
<text x="153.56" y="161.50" font-size="7" text-anchor="middle" fill="#333" stroke="#333" stroke-width="0.12" textLength="6.90" lengthAdjust="spacingAndGlyphs">84</text>
<path d="M169.42,149.4 V152.8" stroke="#231f20" stroke-width="1"/>
<text x="169.42" y="161.50" font-size="7" text-anchor="middle" fill="#333" stroke="#333" stroke-width="0.12" textLength="6.90" lengthAdjust="spacingAndGlyphs">96</text>
<path d="M185.27,149.4 V152.8" stroke="#231f20" stroke-width="1"/>
<text x="185.27" y="161.50" font-size="7" text-anchor="middle" fill="#333" stroke="#333" stroke-width="0.12" textLength="10.60" lengthAdjust="spacingAndGlyphs">108</text>
<path d="M201.12,149.4 V152.8" stroke="#231f20" stroke-width="1"/>
<text x="201.12" y="161.50" font-size="7" text-anchor="middle" fill="#333" stroke="#333" stroke-width="0.12" textLength="10.60" lengthAdjust="spacingAndGlyphs">120</text>
<path d="M216.97,149.4 V152.8" stroke="#231f20" stroke-width="1"/>
<text x="216.97" y="161.50" font-size="7" text-anchor="middle" fill="#333" stroke="#333" stroke-width="0.12" textLength="10.60" lengthAdjust="spacingAndGlyphs">132</text>
<text x="131.10" y="174.20" font-size="9" text-anchor="middle" fill="#231f20" stroke="#231f20" stroke-width="0.3" textLength="35.20" lengthAdjust="spacingAndGlyphs">Study week</text>
<text transform="translate(14.6,92.9) rotate(-90)" x="0.00" y="0.00" font-size="8.8" text-anchor="middle" fill="#231f20" stroke="#231f20" stroke-width="0.18" textLength="120.00" lengthAdjust="spacingAndGlyphs">Factor VIII activity (% normal - log scale)</text>
<text transform="translate(244.2,93.3) rotate(90)" x="0.00" y="0.00" font-size="8.6" text-anchor="middle" fill="#231f20" stroke="#231f20" stroke-width="0.28" textLength="39.20" lengthAdjust="spacingAndGlyphs">ALT/AST (U/L)</text>
</g>
<path d="M44.9,141.0 L46.6,139.2 L48.3,126.5 L49.5,121.9 L50.2,110.0 L50.9,94.5 L52.1,94.5 L52.6,112.0 L53.5,120.8 L54.7,126.5 L55.8,130.0 L57.6,131.2 L59.3,129.4 L61.0,128.8 L63.4,130.0 L65.7,128.3 L66.2,124.8 L68.5,121.9 L69.7,122.5" fill="none" stroke="#55b85a" stroke-width="2.0" stroke-linejoin="round" stroke-linecap="round"/>
<path d="M43.7,137.5 L45.5,134.6 L47.8,132.3 L49.5,130.0 L50.7,126.5 L51.3,121.5 L52.3,122.0 L53.0,129.4 L53.5,133.5 L54.7,137.0 L56.4,138.1 L58.2,137.5 L59.3,134.6 L61.0,135.2 L62.2,134.0 L63.9,133.5 L65.7,132.3 L67.4,132.9 L69.1,131.2" fill="none" stroke="#32124a" stroke-width="3.2" stroke-linejoin="round" stroke-linecap="round"/>
<path d="M44.6,140.8 L45.4,139.0 L46.2,141.5 L47.0,138.0 L47.7,136.9 L48.4,131.0 L49.2,125.4 L49.8,119.0 L50.4,114.6 L50.9,104.0 L51.5,93.8 L52.2,108.0 L53.1,119.2 L53.8,122.0 L54.6,125.4 L55.4,128.0 L56.2,131.5 L57.3,128.0 L58.5,129.2 L59.6,131.0 L60.8,129.2 L62.0,131.0 L63.1,130.0 L64.3,127.0 L65.4,128.5 L66.1,125.0 L66.9,124.6 L68.0,123.0 L69.2,121.5 L74.6,126.1 L79.8,85.2 L84.4,128.4 L89.6,129.3 L90.3,125.4 L91.0,129.6 L95.4,131.9 L100.6,135.4 L106.0,112.9 L111.3,126.1 L111.3,121.0 L179.8,136.3 L214.1,138.8" fill="none" stroke="#3a9a44" stroke-width="1.1" stroke-linejoin="round"/>
<circle cx="44.6" cy="140.8" r="1.0" fill="#276a2d"/>
<circle cx="45.4" cy="139.0" r="1.0" fill="#276a2d"/>
<circle cx="46.2" cy="141.5" r="1.0" fill="#276a2d"/>
<circle cx="47.0" cy="138.0" r="1.0" fill="#276a2d"/>
<circle cx="47.7" cy="136.9" r="1.0" fill="#276a2d"/>
<circle cx="48.4" cy="131.0" r="1.0" fill="#276a2d"/>
<circle cx="49.2" cy="125.4" r="1.0" fill="#276a2d"/>
<circle cx="49.8" cy="119.0" r="1.0" fill="#276a2d"/>
<circle cx="50.4" cy="114.6" r="1.0" fill="#276a2d"/>
<circle cx="50.9" cy="104.0" r="1.0" fill="#276a2d"/>
<circle cx="51.5" cy="93.8" r="1.0" fill="#276a2d"/>
<circle cx="52.2" cy="108.0" r="1.0" fill="#276a2d"/>
<circle cx="53.1" cy="119.2" r="1.0" fill="#276a2d"/>
<circle cx="53.8" cy="122.0" r="1.0" fill="#276a2d"/>
<circle cx="54.6" cy="125.4" r="1.0" fill="#276a2d"/>
<circle cx="55.4" cy="128.0" r="1.0" fill="#276a2d"/>
<circle cx="56.2" cy="131.5" r="1.0" fill="#276a2d"/>
<circle cx="57.3" cy="128.0" r="1.0" fill="#276a2d"/>
<circle cx="58.5" cy="129.2" r="1.0" fill="#276a2d"/>
<circle cx="59.6" cy="131.0" r="1.0" fill="#276a2d"/>
<circle cx="60.8" cy="129.2" r="1.0" fill="#276a2d"/>
<circle cx="62.0" cy="131.0" r="1.0" fill="#276a2d"/>
<circle cx="63.1" cy="130.0" r="1.0" fill="#276a2d"/>
<circle cx="64.3" cy="127.0" r="1.0" fill="#276a2d"/>
<circle cx="65.4" cy="128.5" r="1.0" fill="#276a2d"/>
<circle cx="66.1" cy="125.0" r="1.0" fill="#276a2d"/>
<circle cx="66.9" cy="124.6" r="1.0" fill="#276a2d"/>
<circle cx="68.0" cy="123.0" r="1.0" fill="#276a2d"/>
<circle cx="69.2" cy="121.5" r="1.0" fill="#276a2d"/>
<circle cx="74.6" cy="126.1" r="1.0" fill="#276a2d"/>
<circle cx="79.8" cy="85.2" r="1.0" fill="#276a2d"/>
<circle cx="84.4" cy="128.4" r="1.0" fill="#276a2d"/>
<circle cx="89.6" cy="129.3" r="1.0" fill="#276a2d"/>
<circle cx="90.3" cy="125.4" r="1.0" fill="#276a2d"/>
<circle cx="91.0" cy="129.6" r="1.0" fill="#276a2d"/>
<circle cx="95.4" cy="131.9" r="1.0" fill="#276a2d"/>
<circle cx="100.6" cy="135.4" r="1.0" fill="#276a2d"/>
<circle cx="106.0" cy="112.9" r="1.0" fill="#276a2d"/>
<circle cx="111.3" cy="126.1" r="1.0" fill="#276a2d"/>
<circle cx="111.3" cy="121.0" r="1.0" fill="#276a2d"/>
<circle cx="179.8" cy="136.3" r="1.0" fill="#276a2d"/>
<circle cx="214.1" cy="138.8" r="1.0" fill="#276a2d"/>
<path d="M43.8,136.9 L44.6,134.0 L45.4,137.0 L46.2,134.6 L47.0,136.0 L47.7,132.0 L48.5,132.3 L49.5,130.0 L50.4,128.5 L51.0,124.0 L51.5,120.0 L52.2,128.0 L53.1,133.0 L54.2,135.0 L55.4,137.7 L56.5,136.0 L57.7,138.5 L58.8,134.0 L60.0,135.4 L61.1,137.0 L62.3,136.2 L63.4,133.0 L64.6,133.0 L65.8,135.5 L66.9,134.6 L68.0,131.0 L69.2,131.5 L74.6,132.5 L79.8,117.5 L84.4,132.5 L90.2,132.5 L95.4,134.8 L100.6,137.1 L106.0,126.1 L111.3,135.4 L111.3,132.5 L179.8,129.0 L214.1,138.8" fill="none" stroke="#4a2a64" stroke-width="1.1" stroke-linejoin="round"/>
<circle cx="43.8" cy="136.9" r="1.0" fill="#32124a"/>
<circle cx="44.6" cy="134.0" r="1.0" fill="#32124a"/>
<circle cx="45.4" cy="137.0" r="1.0" fill="#32124a"/>
<circle cx="46.2" cy="134.6" r="1.0" fill="#32124a"/>
<circle cx="47.0" cy="136.0" r="1.0" fill="#32124a"/>
<circle cx="47.7" cy="132.0" r="1.0" fill="#32124a"/>
<circle cx="48.5" cy="132.3" r="1.0" fill="#32124a"/>
<circle cx="49.5" cy="130.0" r="1.0" fill="#32124a"/>
<circle cx="50.4" cy="128.5" r="1.0" fill="#32124a"/>
<circle cx="51.0" cy="124.0" r="1.0" fill="#32124a"/>
<circle cx="51.5" cy="120.0" r="1.0" fill="#32124a"/>
<circle cx="52.2" cy="128.0" r="1.0" fill="#32124a"/>
<circle cx="53.1" cy="133.0" r="1.0" fill="#32124a"/>
<circle cx="54.2" cy="135.0" r="1.0" fill="#32124a"/>
<circle cx="55.4" cy="137.7" r="1.0" fill="#32124a"/>
<circle cx="56.5" cy="136.0" r="1.0" fill="#32124a"/>
<circle cx="57.7" cy="138.5" r="1.0" fill="#32124a"/>
<circle cx="58.8" cy="134.0" r="1.0" fill="#32124a"/>
<circle cx="60.0" cy="135.4" r="1.0" fill="#32124a"/>
<circle cx="61.1" cy="137.0" r="1.0" fill="#32124a"/>
<circle cx="62.3" cy="136.2" r="1.0" fill="#32124a"/>
<circle cx="63.4" cy="133.0" r="1.0" fill="#32124a"/>
<circle cx="64.6" cy="133.0" r="1.0" fill="#32124a"/>
<circle cx="65.8" cy="135.5" r="1.0" fill="#32124a"/>
<circle cx="66.9" cy="134.6" r="1.0" fill="#32124a"/>
<circle cx="68.0" cy="131.0" r="1.0" fill="#32124a"/>
<circle cx="69.2" cy="131.5" r="1.0" fill="#32124a"/>
<circle cx="74.6" cy="132.5" r="1.0" fill="#32124a"/>
<circle cx="79.8" cy="117.5" r="1.0" fill="#32124a"/>
<circle cx="84.4" cy="132.5" r="1.0" fill="#32124a"/>
<circle cx="90.2" cy="132.5" r="1.0" fill="#32124a"/>
<circle cx="95.4" cy="134.8" r="1.0" fill="#32124a"/>
<circle cx="100.6" cy="137.1" r="1.0" fill="#32124a"/>
<circle cx="106.0" cy="126.1" r="1.0" fill="#32124a"/>
<circle cx="111.3" cy="135.4" r="1.0" fill="#32124a"/>
<circle cx="111.3" cy="132.5" r="1.0" fill="#32124a"/>
<circle cx="179.8" cy="129.0" r="1.0" fill="#32124a"/>
<circle cx="214.1" cy="138.8" r="1.0" fill="#32124a"/>
<path d="M43.5,125.8 L45.4,103.0 L47.3,90.8 L48.5,80.0 L49.6,75.8 L51.9,79.2 L53.5,75.0 L54.2,73.5 L55.8,80.4 L56.5,75.4 L58.5,73.5 L59.6,72.7 L61.2,75.8 L63.1,72.3 L64.2,70.8 L66.2,74.2 L69.2,68.5 L71.9,73.1 L73.8,71.5 L75.0,70.9 L79.7,66.8 L84.4,68.8 L90.5,72.9 L95.2,70.2 L100.6,68.8 L106.0,70.2 L111.1,64.8 L117.8,71.5 L122.1,66.8 L123.2,74.2 L124.8,74.9 L126.8,78.9 L128.8,78.3 L130.2,83.0 L146.8,86.5 L150.9,89.2 L180.4,95.4 L214.6,106.5" fill="none" stroke="#bc243c" stroke-width="1.1" stroke-linejoin="round"/>
<circle cx="43.5" cy="125.8" r="1.0" fill="#861528"/>
<circle cx="45.4" cy="103.0" r="1.0" fill="#861528"/>
<circle cx="47.3" cy="90.8" r="1.0" fill="#861528"/>
<circle cx="48.5" cy="80.0" r="1.0" fill="#861528"/>
<circle cx="49.6" cy="75.8" r="1.0" fill="#861528"/>
<circle cx="51.9" cy="79.2" r="1.0" fill="#861528"/>
<circle cx="53.5" cy="75.0" r="1.0" fill="#861528"/>
<circle cx="54.2" cy="73.5" r="1.0" fill="#861528"/>
<circle cx="55.8" cy="80.4" r="1.0" fill="#861528"/>
<circle cx="56.5" cy="75.4" r="1.0" fill="#861528"/>
<circle cx="58.5" cy="73.5" r="1.0" fill="#861528"/>
<circle cx="59.6" cy="72.7" r="1.0" fill="#861528"/>
<circle cx="61.2" cy="75.8" r="1.0" fill="#861528"/>
<circle cx="63.1" cy="72.3" r="1.0" fill="#861528"/>
<circle cx="64.2" cy="70.8" r="1.0" fill="#861528"/>
<circle cx="66.2" cy="74.2" r="1.0" fill="#861528"/>
<circle cx="69.2" cy="68.5" r="1.0" fill="#861528"/>
<circle cx="71.9" cy="73.1" r="1.0" fill="#861528"/>
<circle cx="73.8" cy="71.5" r="1.0" fill="#861528"/>
<circle cx="75.0" cy="70.9" r="1.0" fill="#861528"/>
<circle cx="79.7" cy="66.8" r="1.0" fill="#861528"/>
<circle cx="84.4" cy="68.8" r="1.0" fill="#861528"/>
<circle cx="90.5" cy="72.9" r="1.0" fill="#861528"/>
<circle cx="95.2" cy="70.2" r="1.0" fill="#861528"/>
<circle cx="100.6" cy="68.8" r="1.0" fill="#861528"/>
<circle cx="106.0" cy="70.2" r="1.0" fill="#861528"/>
<circle cx="111.1" cy="64.8" r="1.0" fill="#861528"/>
<circle cx="117.8" cy="71.5" r="1.0" fill="#861528"/>
<circle cx="122.1" cy="66.8" r="1.0" fill="#861528"/>
<circle cx="123.2" cy="74.2" r="1.0" fill="#861528"/>
<circle cx="124.8" cy="74.9" r="1.0" fill="#861528"/>
<circle cx="126.8" cy="78.9" r="1.0" fill="#861528"/>
<circle cx="128.8" cy="78.3" r="1.0" fill="#861528"/>
<circle cx="130.2" cy="83.0" r="1.0" fill="#861528"/>
<circle cx="146.8" cy="86.5" r="1.0" fill="#861528"/>
<circle cx="150.9" cy="89.2" r="1.0" fill="#861528"/>
<circle cx="180.4" cy="95.4" r="1.0" fill="#861528"/>
<circle cx="214.6" cy="106.5" r="1.0" fill="#861528"/>
<path d="M43.5,119.2 L45.4,101.5 L46.9,85.4 L48.5,72.3 L49.2,70.8 L50.4,69.6 L51.5,72.7 L52.7,69.2 L54.2,66.9 L55.4,70.0 L56.5,67.3 L58.1,65.8 L59.6,65.4 L60.8,68.1 L62.3,65.8 L63.8,64.2 L65.4,66.9 L66.5,67.3 L67.7,63.1 L69.2,60.4 L71.5,63.1 L73.8,63.5 L75.0,62.8 L79.7,59.4 L84.4,60.1 L90.5,64.1 L95.2,63.5 L100.6,62.8 L106.0,62.8 L111.1,57.8 L117.8,63.5 L122.1,59.4 L123.2,60.1 L124.1,66.2 L126.1,66.8 L127.5,70.2 L128.8,74.2 L130.2,72.2 L130.9,77.7 L146.8,81.6 L150.9,82.5 L180.4,87.8 L214.6,98.4" fill="none" stroke="#1f5074" stroke-width="1.1" stroke-linejoin="round"/>
<circle cx="43.5" cy="119.2" r="1.0" fill="#15304c"/>
<circle cx="45.4" cy="101.5" r="1.0" fill="#15304c"/>
<circle cx="46.9" cy="85.4" r="1.0" fill="#15304c"/>
<circle cx="48.5" cy="72.3" r="1.0" fill="#15304c"/>
<circle cx="49.2" cy="70.8" r="1.0" fill="#15304c"/>
<circle cx="50.4" cy="69.6" r="1.0" fill="#15304c"/>
<circle cx="51.5" cy="72.7" r="1.0" fill="#15304c"/>
<circle cx="52.7" cy="69.2" r="1.0" fill="#15304c"/>
<circle cx="54.2" cy="66.9" r="1.0" fill="#15304c"/>
<circle cx="55.4" cy="70.0" r="1.0" fill="#15304c"/>
<circle cx="56.5" cy="67.3" r="1.0" fill="#15304c"/>
<circle cx="58.1" cy="65.8" r="1.0" fill="#15304c"/>
<circle cx="59.6" cy="65.4" r="1.0" fill="#15304c"/>
<circle cx="60.8" cy="68.1" r="1.0" fill="#15304c"/>
<circle cx="62.3" cy="65.8" r="1.0" fill="#15304c"/>
<circle cx="63.8" cy="64.2" r="1.0" fill="#15304c"/>
<circle cx="65.4" cy="66.9" r="1.0" fill="#15304c"/>
<circle cx="66.5" cy="67.3" r="1.0" fill="#15304c"/>
<circle cx="67.7" cy="63.1" r="1.0" fill="#15304c"/>
<circle cx="69.2" cy="60.4" r="1.0" fill="#15304c"/>
<circle cx="71.5" cy="63.1" r="1.0" fill="#15304c"/>
<circle cx="73.8" cy="63.5" r="1.0" fill="#15304c"/>
<circle cx="75.0" cy="62.8" r="1.0" fill="#15304c"/>
<circle cx="79.7" cy="59.4" r="1.0" fill="#15304c"/>
<circle cx="84.4" cy="60.1" r="1.0" fill="#15304c"/>
<circle cx="90.5" cy="64.1" r="1.0" fill="#15304c"/>
<circle cx="95.2" cy="63.5" r="1.0" fill="#15304c"/>
<circle cx="100.6" cy="62.8" r="1.0" fill="#15304c"/>
<circle cx="106.0" cy="62.8" r="1.0" fill="#15304c"/>
<circle cx="111.1" cy="57.8" r="1.0" fill="#15304c"/>
<circle cx="117.8" cy="63.5" r="1.0" fill="#15304c"/>
<circle cx="122.1" cy="59.4" r="1.0" fill="#15304c"/>
<circle cx="123.2" cy="60.1" r="1.0" fill="#15304c"/>
<circle cx="124.1" cy="66.2" r="1.0" fill="#15304c"/>
<circle cx="126.1" cy="66.8" r="1.0" fill="#15304c"/>
<circle cx="127.5" cy="70.2" r="1.0" fill="#15304c"/>
<circle cx="128.8" cy="74.2" r="1.0" fill="#15304c"/>
<circle cx="130.2" cy="72.2" r="1.0" fill="#15304c"/>
<circle cx="130.9" cy="77.7" r="1.0" fill="#15304c"/>
<circle cx="146.8" cy="81.6" r="1.0" fill="#15304c"/>
<circle cx="150.9" cy="82.5" r="1.0" fill="#15304c"/>
<circle cx="180.4" cy="87.8" r="1.0" fill="#15304c"/>
<circle cx="214.6" cy="98.4" r="1.0" fill="#15304c"/>
<path d="M48.20,40.30 L50.20,40.30 L49.50,42.00 L49.45,43.20 L48.95,43.20 L48.90,42.00 Z" fill="#4e4878"/>
<rect x="62.40" y="44.30" width="3.0" height="4.4" rx="1.2" fill="#fcd98e"/><path d="M63.90,44.60 L64.80,46.00 L64.60,48.40 L63.20,48.40 L63.00,46.00 Z" fill="#c08a3a"/>
<path d="M78.70,40.30 L80.70,40.30 L80.00,42.00 L79.95,43.20 L79.45,43.20 L79.40,42.00 Z" fill="#4e4878"/>
<rect x="79.00" y="44.30" width="3.0" height="4.4" rx="1.2" fill="#fcd98e"/><path d="M80.50,44.60 L81.40,46.00 L81.20,48.40 L79.80,48.40 L79.60,46.00 Z" fill="#c08a3a"/>
<path d="M106.00,40.10 L108.00,40.10 L107.30,41.80 L107.25,43.00 L106.75,43.00 L106.70,41.80 Z" fill="#4e4878"/>
<rect x="127.00" y="44.10" width="3.0" height="4.4" rx="1.2" fill="#fcd98e"/><path d="M128.50,44.40 L129.40,45.80 L129.20,48.20 L127.80,48.20 L127.60,45.80 Z" fill="#c08a3a"/>
<text x="50.60" y="49.90" font-size="6.4" text-anchor="middle" fill="#3a3a3a" stroke="#3a3a3a" stroke-width="0.18" textLength="7.10" lengthAdjust="spacingAndGlyphs">(5)</text>
<text x="66.70" y="54.70" font-size="6.4" text-anchor="middle" fill="#3a3a3a" stroke="#3a3a3a" stroke-width="0.18" textLength="10.40" lengthAdjust="spacingAndGlyphs">(16)</text>
<text x="85.30" y="43.80" font-size="6.4" text-anchor="middle" fill="#3a3a3a" stroke="#3a3a3a" stroke-width="0.18" textLength="10.10" lengthAdjust="spacingAndGlyphs">(28)</text>
<text x="84.10" y="54.70" font-size="6.4" text-anchor="middle" fill="#3a3a3a" stroke="#3a3a3a" stroke-width="0.18" textLength="10.40" lengthAdjust="spacingAndGlyphs">(29)</text>
<text x="110.40" y="49.40" font-size="6.4" text-anchor="middle" fill="#3a3a3a" stroke="#3a3a3a" stroke-width="0.18" textLength="10.90" lengthAdjust="spacingAndGlyphs">(49)</text>
<text x="131.60" y="54.60" font-size="6.4" text-anchor="middle" fill="#3a3a3a" stroke="#3a3a3a" stroke-width="0.18" textLength="11.00" lengthAdjust="spacingAndGlyphs">(65)</text>
<path d="M320.4,122.0 L322.3,123.9 L324.4,128.1 L326.5,127.4 L328.6,126.0 L330.0,127.4" fill="none" stroke="#55b85a" stroke-width="2.4" stroke-linejoin="round" stroke-linecap="round"/>
<path d="M312.0,132.0 L314.0,134.0 L316.0,134.4 L317.8,128.0" fill="none" stroke="#55b85a" stroke-width="1.4" stroke-linejoin="round" stroke-linecap="round"/>
<path d="M304.8,137.9 L305.1,133.0 L306.9,130.9 L309.0,131.6 L310.4,135.1 L311.4,139.3 L312.1,134.4 L313.9,133.0 L316.0,131.6 L318.1,128.1 L318.8,123.9 L319.8,127.4 L320.9,131.6 L323.0,133.0 L325.1,134.4 L327.2,133.7 L330.0,134.4" fill="none" stroke="#32124a" stroke-width="3.4" stroke-linejoin="round" stroke-linecap="round"/>
<path d="M304.4,139.4 L305.8,136.0 L307.2,138.5 L308.6,135.0 L310.0,137.5 L311.6,133.7 L313.0,137.0 L314.5,134.0 L316.4,136.5 L317.9,117.3 L319.3,111.1 L319.8,119.2 L321.2,120.2 L322.2,126.0 L323.6,128.8 L325.6,126.9 L327.5,126.0 L329.9,125.0 L335.2,119.2 L340.5,120.7 L345.8,129.2 L351.2,115.8 L356.5,121.2 L361.5,124.6 L366.9,124.2 L440.6,135.1 L475.0,130.5 L475.0,129.6 L475.0,133.4" fill="none" stroke="#3a9a44" stroke-width="1.1" stroke-linejoin="round"/>
<circle cx="304.4" cy="139.4" r="1.0" fill="#276a2d"/>
<circle cx="305.8" cy="136.0" r="1.0" fill="#276a2d"/>
<circle cx="307.2" cy="138.5" r="1.0" fill="#276a2d"/>
<circle cx="308.6" cy="135.0" r="1.0" fill="#276a2d"/>
<circle cx="310.0" cy="137.5" r="1.0" fill="#276a2d"/>
<circle cx="311.6" cy="133.7" r="1.0" fill="#276a2d"/>
<circle cx="313.0" cy="137.0" r="1.0" fill="#276a2d"/>
<circle cx="314.5" cy="134.0" r="1.0" fill="#276a2d"/>
<circle cx="316.4" cy="136.5" r="1.0" fill="#276a2d"/>
<circle cx="317.9" cy="117.3" r="1.0" fill="#276a2d"/>
<circle cx="319.3" cy="111.1" r="1.0" fill="#276a2d"/>
<circle cx="319.8" cy="119.2" r="1.0" fill="#276a2d"/>
<circle cx="321.2" cy="120.2" r="1.0" fill="#276a2d"/>
<circle cx="322.2" cy="126.0" r="1.0" fill="#276a2d"/>
<circle cx="323.6" cy="128.8" r="1.0" fill="#276a2d"/>
<circle cx="325.6" cy="126.9" r="1.0" fill="#276a2d"/>
<circle cx="327.5" cy="126.0" r="1.0" fill="#276a2d"/>
<circle cx="329.9" cy="125.0" r="1.0" fill="#276a2d"/>
<circle cx="335.2" cy="119.2" r="1.0" fill="#276a2d"/>
<circle cx="340.5" cy="120.7" r="1.0" fill="#276a2d"/>
<circle cx="345.8" cy="129.2" r="1.0" fill="#276a2d"/>
<circle cx="351.2" cy="115.8" r="1.0" fill="#276a2d"/>
<circle cx="356.5" cy="121.2" r="1.0" fill="#276a2d"/>
<circle cx="361.5" cy="124.6" r="1.0" fill="#276a2d"/>
<circle cx="366.9" cy="124.2" r="1.0" fill="#276a2d"/>
<circle cx="440.6" cy="135.1" r="1.0" fill="#276a2d"/>
<circle cx="475.0" cy="130.5" r="1.0" fill="#276a2d"/>
<circle cx="475.0" cy="129.6" r="1.0" fill="#276a2d"/>
<circle cx="475.0" cy="133.4" r="1.0" fill="#276a2d"/>
<path d="M304.4,138.5 L305.8,131.7 L307.8,130.8 L309.2,136.5 L310.7,132.7 L311.6,138.5 L313.1,132.7 L315.0,133.7 L316.4,131.7 L317.9,128.8 L318.8,124.0 L319.8,130.8 L321.2,132.7 L322.7,131.7 L324.6,134.6 L326.0,133.7 L328.0,132.7 L329.9,133.7 L335.2,128.4 L340.5,129.8 L345.8,132.3 L351.2,128.1 L356.5,130.0 L361.5,131.2 L366.9,125.2 L440.6,135.1 L440.6,130.9 L475.0,133.3" fill="none" stroke="#4a2a64" stroke-width="1.1" stroke-linejoin="round"/>
<circle cx="304.4" cy="138.5" r="1.0" fill="#32124a"/>
<circle cx="305.8" cy="131.7" r="1.0" fill="#32124a"/>
<circle cx="307.8" cy="130.8" r="1.0" fill="#32124a"/>
<circle cx="309.2" cy="136.5" r="1.0" fill="#32124a"/>
<circle cx="310.7" cy="132.7" r="1.0" fill="#32124a"/>
<circle cx="311.6" cy="138.5" r="1.0" fill="#32124a"/>
<circle cx="313.1" cy="132.7" r="1.0" fill="#32124a"/>
<circle cx="315.0" cy="133.7" r="1.0" fill="#32124a"/>
<circle cx="316.4" cy="131.7" r="1.0" fill="#32124a"/>
<circle cx="317.9" cy="128.8" r="1.0" fill="#32124a"/>
<circle cx="318.8" cy="124.0" r="1.0" fill="#32124a"/>
<circle cx="319.8" cy="130.8" r="1.0" fill="#32124a"/>
<circle cx="321.2" cy="132.7" r="1.0" fill="#32124a"/>
<circle cx="322.7" cy="131.7" r="1.0" fill="#32124a"/>
<circle cx="324.6" cy="134.6" r="1.0" fill="#32124a"/>
<circle cx="326.0" cy="133.7" r="1.0" fill="#32124a"/>
<circle cx="328.0" cy="132.7" r="1.0" fill="#32124a"/>
<circle cx="329.9" cy="133.7" r="1.0" fill="#32124a"/>
<circle cx="335.2" cy="128.4" r="1.0" fill="#32124a"/>
<circle cx="340.5" cy="129.8" r="1.0" fill="#32124a"/>
<circle cx="345.8" cy="132.3" r="1.0" fill="#32124a"/>
<circle cx="351.2" cy="128.1" r="1.0" fill="#32124a"/>
<circle cx="356.5" cy="130.0" r="1.0" fill="#32124a"/>
<circle cx="361.5" cy="131.2" r="1.0" fill="#32124a"/>
<circle cx="366.9" cy="125.2" r="1.0" fill="#32124a"/>
<circle cx="440.6" cy="135.1" r="1.0" fill="#32124a"/>
<circle cx="440.6" cy="130.9" r="1.0" fill="#32124a"/>
<circle cx="475.0" cy="133.3" r="1.0" fill="#32124a"/>
<path d="M311.1,81.7 L312.6,85.6 L314.0,81.7 L315.5,86.5 L316.9,79.8 L318.3,82.7 L319.3,78.8 L320.8,71.6 L323.6,68.8 L327.5,70.7 L328.9,74.0 L330.8,68.8 L332.8,75.0 L335.2,71.6 L336.6,74.5 L340.5,70.7 L345.8,74.4 L351.0,71.4 L356.1,74.6 L361.9,81.0 L367.1,79.0 L391.9,72.9 L440.9,80.3 L475.1,73.1" fill="none" stroke="#bc243c" stroke-width="1.1" stroke-linejoin="round"/>
<circle cx="311.1" cy="81.7" r="1.0" fill="#861528"/>
<circle cx="312.6" cy="85.6" r="1.0" fill="#861528"/>
<circle cx="314.0" cy="81.7" r="1.0" fill="#861528"/>
<circle cx="315.5" cy="86.5" r="1.0" fill="#861528"/>
<circle cx="316.9" cy="79.8" r="1.0" fill="#861528"/>
<circle cx="318.3" cy="82.7" r="1.0" fill="#861528"/>
<circle cx="319.3" cy="78.8" r="1.0" fill="#861528"/>
<circle cx="320.8" cy="71.6" r="1.0" fill="#861528"/>
<circle cx="323.6" cy="68.8" r="1.0" fill="#861528"/>
<circle cx="327.5" cy="70.7" r="1.0" fill="#861528"/>
<circle cx="328.9" cy="74.0" r="1.0" fill="#861528"/>
<circle cx="330.8" cy="68.8" r="1.0" fill="#861528"/>
<circle cx="332.8" cy="75.0" r="1.0" fill="#861528"/>
<circle cx="335.2" cy="71.6" r="1.0" fill="#861528"/>
<circle cx="336.6" cy="74.5" r="1.0" fill="#861528"/>
<circle cx="340.5" cy="70.7" r="1.0" fill="#861528"/>
<circle cx="345.8" cy="74.4" r="1.0" fill="#861528"/>
<circle cx="351.0" cy="71.4" r="1.0" fill="#861528"/>
<circle cx="356.1" cy="74.6" r="1.0" fill="#861528"/>
<circle cx="361.9" cy="81.0" r="1.0" fill="#861528"/>
<circle cx="367.1" cy="79.0" r="1.0" fill="#861528"/>
<circle cx="391.9" cy="72.9" r="1.0" fill="#861528"/>
<circle cx="440.9" cy="80.3" r="1.0" fill="#861528"/>
<circle cx="475.1" cy="73.1" r="1.0" fill="#861528"/>
<path d="M311.1,76.0 L312.6,78.8 L314.0,77.9 L315.5,78.8 L316.9,70.7 L317.9,76.4 L319.3,74.0 L320.8,64.4 L323.6,60.6 L325.6,62.5 L328.4,66.3 L329.9,61.1 L331.3,65.4 L332.8,69.2 L334.7,65.9 L336.1,69.2 L340.5,62.5 L345.8,68.3 L351.0,66.5 L356.7,69.4 L361.9,74.0 L367.1,74.4 L391.9,69.4 L440.9,75.3 L475.1,66.9" fill="none" stroke="#1f5074" stroke-width="1.1" stroke-linejoin="round"/>
<circle cx="311.1" cy="76.0" r="1.0" fill="#15304c"/>
<circle cx="312.6" cy="78.8" r="1.0" fill="#15304c"/>
<circle cx="314.0" cy="77.9" r="1.0" fill="#15304c"/>
<circle cx="315.5" cy="78.8" r="1.0" fill="#15304c"/>
<circle cx="316.9" cy="70.7" r="1.0" fill="#15304c"/>
<circle cx="317.9" cy="76.4" r="1.0" fill="#15304c"/>
<circle cx="319.3" cy="74.0" r="1.0" fill="#15304c"/>
<circle cx="320.8" cy="64.4" r="1.0" fill="#15304c"/>
<circle cx="323.6" cy="60.6" r="1.0" fill="#15304c"/>
<circle cx="325.6" cy="62.5" r="1.0" fill="#15304c"/>
<circle cx="328.4" cy="66.3" r="1.0" fill="#15304c"/>
<circle cx="329.9" cy="61.1" r="1.0" fill="#15304c"/>
<circle cx="331.3" cy="65.4" r="1.0" fill="#15304c"/>
<circle cx="332.8" cy="69.2" r="1.0" fill="#15304c"/>
<circle cx="334.7" cy="65.9" r="1.0" fill="#15304c"/>
<circle cx="336.1" cy="69.2" r="1.0" fill="#15304c"/>
<circle cx="340.5" cy="62.5" r="1.0" fill="#15304c"/>
<circle cx="345.8" cy="68.3" r="1.0" fill="#15304c"/>
<circle cx="351.0" cy="66.5" r="1.0" fill="#15304c"/>
<circle cx="356.7" cy="69.4" r="1.0" fill="#15304c"/>
<circle cx="361.9" cy="74.0" r="1.0" fill="#15304c"/>
<circle cx="367.1" cy="74.4" r="1.0" fill="#15304c"/>
<circle cx="391.9" cy="69.4" r="1.0" fill="#15304c"/>
<circle cx="440.9" cy="75.3" r="1.0" fill="#15304c"/>
<circle cx="475.1" cy="66.9" r="1.0" fill="#15304c"/>
<path d="M309.20,39.50 L311.20,39.50 L310.50,41.20 L310.45,42.40 L309.95,42.40 L309.90,41.20 Z" fill="#4e4878"/>
<path d="M318.80,39.50 L320.80,39.50 L320.10,41.20 L320.05,42.40 L319.55,42.40 L319.50,41.20 Z" fill="#4e4878"/>
<rect x="308.00" y="44.30" width="3.0" height="4.4" rx="1.2" fill="#fcd98e"/><path d="M309.50,44.60 L310.40,46.00 L310.20,48.40 L308.80,48.40 L308.60,46.00 Z" fill="#c08a3a"/>
<rect x="331.50" y="44.00" width="3.0" height="4.4" rx="1.2" fill="#fcd98e"/><path d="M333.00,44.30 L333.90,45.70 L333.70,48.10 L332.30,48.10 L332.10,45.70 Z" fill="#c08a3a"/>
<text x="315.00" y="44.20" font-size="6.4" text-anchor="middle" fill="#3a3a3a" stroke="#3a3a3a" stroke-width="0.18" textLength="7.70" lengthAdjust="spacingAndGlyphs">(5)</text>
<text x="322.70" y="48.40" font-size="6.4" text-anchor="middle" fill="#3a3a3a" stroke="#3a3a3a" stroke-width="0.18" textLength="10.80" lengthAdjust="spacingAndGlyphs">(12)</text>
<text x="311.40" y="54.20" font-size="6.4" text-anchor="middle" fill="#3a3a3a" stroke="#3a3a3a" stroke-width="0.18" textLength="6.80" lengthAdjust="spacingAndGlyphs">(5)</text>
<text x="335.70" y="54.70" font-size="6.4" text-anchor="middle" fill="#3a3a3a" stroke="#3a3a3a" stroke-width="0.18" textLength="10.90" lengthAdjust="spacingAndGlyphs">(22)</text>
<path d="M45.5,313.0 L46.4,314.5 L47.5,317.0 L48.7,318.0 L50.0,317.0 L51.5,316.0 L52.5,314.0 L53.5,313.0 L54.4,308.8 L55.0,317.0 L56.0,319.0 L57.0,318.5 L58.0,318.0 L59.5,317.0 L61.0,314.0 L62.5,317.0 L64.0,318.5 L65.5,317.0 L67.0,316.0 L68.5,314.0 L69.3,311.5 L71.6,316.5" fill="none" stroke="#55b85a" stroke-width="1.8" stroke-linejoin="round" stroke-linecap="round"/>
<path d="M43.8,315.0 L45.4,312.0 L46.2,318.0 L47.5,320.0 L48.7,320.5 L50.0,318.0 L51.2,320.0 L52.3,316.0 L53.5,317.0 L54.4,315.0 L55.5,320.0 L56.6,320.5 L57.8,318.0 L59.0,320.0 L60.3,316.0 L61.5,313.0 L62.6,315.0 L63.7,319.0 L65.0,320.0 L66.2,315.0 L67.3,319.0 L68.5,318.0 L69.8,316.0 L70.5,317.0" fill="none" stroke="#32124a" stroke-width="3.8" stroke-linejoin="round" stroke-linecap="round"/>
<path d="M45.8,314.6 L46.8,318.0 L47.7,317.5 L48.7,320.0 L49.6,318.5 L50.8,316.0 L52.0,316.0 L53.2,319.0 L54.9,308.8 L55.4,320.4 L56.5,317.0 L57.5,318.0 L58.8,316.0 L60.0,317.0 L61.0,313.0 L62.0,315.0 L63.0,318.0 L64.0,318.0 L65.0,316.0 L66.0,315.0 L67.0,318.0 L68.3,316.0 L69.3,311.7 L71.7,317.0 L75.0,319.5 L79.5,323.0 L85.0,323.9 L90.3,322.4 L95.5,323.2 L106.3,317.5 L111.4,319.5 L179.8,299.0" fill="none" stroke="#3a9a44" stroke-width="1.1" stroke-linejoin="round"/>
<circle cx="45.8" cy="314.6" r="1.0" fill="#276a2d"/>
<circle cx="46.8" cy="318.0" r="1.0" fill="#276a2d"/>
<circle cx="47.7" cy="317.5" r="1.0" fill="#276a2d"/>
<circle cx="48.7" cy="320.0" r="1.0" fill="#276a2d"/>
<circle cx="49.6" cy="318.5" r="1.0" fill="#276a2d"/>
<circle cx="50.8" cy="316.0" r="1.0" fill="#276a2d"/>
<circle cx="52.0" cy="316.0" r="1.0" fill="#276a2d"/>
<circle cx="53.2" cy="319.0" r="1.0" fill="#276a2d"/>
<circle cx="54.9" cy="308.8" r="1.0" fill="#276a2d"/>
<circle cx="55.4" cy="320.4" r="1.0" fill="#276a2d"/>
<circle cx="56.5" cy="317.0" r="1.0" fill="#276a2d"/>
<circle cx="57.5" cy="318.0" r="1.0" fill="#276a2d"/>
<circle cx="58.8" cy="316.0" r="1.0" fill="#276a2d"/>
<circle cx="60.0" cy="317.0" r="1.0" fill="#276a2d"/>
<circle cx="61.0" cy="313.0" r="1.0" fill="#276a2d"/>
<circle cx="62.0" cy="315.0" r="1.0" fill="#276a2d"/>
<circle cx="63.0" cy="318.0" r="1.0" fill="#276a2d"/>
<circle cx="64.0" cy="318.0" r="1.0" fill="#276a2d"/>
<circle cx="65.0" cy="316.0" r="1.0" fill="#276a2d"/>
<circle cx="66.0" cy="315.0" r="1.0" fill="#276a2d"/>
<circle cx="67.0" cy="318.0" r="1.0" fill="#276a2d"/>
<circle cx="68.3" cy="316.0" r="1.0" fill="#276a2d"/>
<circle cx="69.3" cy="311.7" r="1.0" fill="#276a2d"/>
<circle cx="71.7" cy="317.0" r="1.0" fill="#276a2d"/>
<circle cx="75.0" cy="319.5" r="1.0" fill="#276a2d"/>
<circle cx="79.5" cy="323.0" r="1.0" fill="#276a2d"/>
<circle cx="85.0" cy="323.9" r="1.0" fill="#276a2d"/>
<circle cx="90.3" cy="322.4" r="1.0" fill="#276a2d"/>
<circle cx="95.5" cy="323.2" r="1.0" fill="#276a2d"/>
<circle cx="106.3" cy="317.5" r="1.0" fill="#276a2d"/>
<circle cx="111.4" cy="319.5" r="1.0" fill="#276a2d"/>
<circle cx="179.8" cy="299.0" r="1.0" fill="#276a2d"/>
<path d="M44.3,311.7 L45.3,319.4 L46.7,318.5 L47.7,321.0 L48.7,321.3 L49.6,317.0 L50.6,318.5 L51.5,321.0 L52.5,314.6 L53.5,319.0 L54.4,313.7 L55.9,320.4 L57.3,318.5 L58.8,319.4 L60.2,316.5 L61.3,311.7 L61.3,279.4 L62.1,310.8 L63.1,314.6 L64.0,321.0 L65.0,319.4 L66.4,314.6 L67.2,320.0 L67.9,319.4 L69.3,316.5 L75.0,316.1 L79.5,320.7 L85.0,321.3 L90.3,318.4 L95.5,321.3 L106.3,317.3 L111.4,315.6 L179.8,305.0" fill="none" stroke="#4a2a64" stroke-width="1.1" stroke-linejoin="round"/>
<circle cx="44.3" cy="311.7" r="1.0" fill="#32124a"/>
<circle cx="45.3" cy="319.4" r="1.0" fill="#32124a"/>
<circle cx="46.7" cy="318.5" r="1.0" fill="#32124a"/>
<circle cx="47.7" cy="321.0" r="1.0" fill="#32124a"/>
<circle cx="48.7" cy="321.3" r="1.0" fill="#32124a"/>
<circle cx="49.6" cy="317.0" r="1.0" fill="#32124a"/>
<circle cx="50.6" cy="318.5" r="1.0" fill="#32124a"/>
<circle cx="51.5" cy="321.0" r="1.0" fill="#32124a"/>
<circle cx="52.5" cy="314.6" r="1.0" fill="#32124a"/>
<circle cx="53.5" cy="319.0" r="1.0" fill="#32124a"/>
<circle cx="54.4" cy="313.7" r="1.0" fill="#32124a"/>
<circle cx="55.9" cy="320.4" r="1.0" fill="#32124a"/>
<circle cx="57.3" cy="318.5" r="1.0" fill="#32124a"/>
<circle cx="58.8" cy="319.4" r="1.0" fill="#32124a"/>
<circle cx="60.2" cy="316.5" r="1.0" fill="#32124a"/>
<circle cx="61.3" cy="311.7" r="1.0" fill="#32124a"/>
<circle cx="61.3" cy="279.4" r="1.0" fill="#32124a"/>
<circle cx="62.1" cy="310.8" r="1.0" fill="#32124a"/>
<circle cx="63.1" cy="314.6" r="1.0" fill="#32124a"/>
<circle cx="64.0" cy="321.0" r="1.0" fill="#32124a"/>
<circle cx="65.0" cy="319.4" r="1.0" fill="#32124a"/>
<circle cx="66.4" cy="314.6" r="1.0" fill="#32124a"/>
<circle cx="67.2" cy="320.0" r="1.0" fill="#32124a"/>
<circle cx="67.9" cy="319.4" r="1.0" fill="#32124a"/>
<circle cx="69.3" cy="316.5" r="1.0" fill="#32124a"/>
<circle cx="75.0" cy="316.1" r="1.0" fill="#32124a"/>
<circle cx="79.5" cy="320.7" r="1.0" fill="#32124a"/>
<circle cx="85.0" cy="321.3" r="1.0" fill="#32124a"/>
<circle cx="90.3" cy="318.4" r="1.0" fill="#32124a"/>
<circle cx="95.5" cy="321.3" r="1.0" fill="#32124a"/>
<circle cx="106.3" cy="317.3" r="1.0" fill="#32124a"/>
<circle cx="111.4" cy="315.6" r="1.0" fill="#32124a"/>
<circle cx="179.8" cy="305.0" r="1.0" fill="#32124a"/>
<path d="M45.3,303.1 L46.3,289.6 L47.7,283.3 L49.6,278.5 L51.5,276.5 L52.5,271.7 L53.5,277.5 L54.4,268.8 L55.9,271.7 L57.8,268.8 L60.2,265.5 L62.1,269.8 L64.5,275.6 L66.4,285.2 L69.3,276.5 L74.6,285.2 L76.1,281.3 L79.5,288.3 L85.0,289.4 L90.3,284.3 L95.5,282.0 L106.3,283.8 L111.4,285.5 L179.8,293.3" fill="none" stroke="#bc243c" stroke-width="1.1" stroke-linejoin="round"/>
<circle cx="45.3" cy="303.1" r="1.0" fill="#861528"/>
<circle cx="46.3" cy="289.6" r="1.0" fill="#861528"/>
<circle cx="47.7" cy="283.3" r="1.0" fill="#861528"/>
<circle cx="49.6" cy="278.5" r="1.0" fill="#861528"/>
<circle cx="51.5" cy="276.5" r="1.0" fill="#861528"/>
<circle cx="52.5" cy="271.7" r="1.0" fill="#861528"/>
<circle cx="53.5" cy="277.5" r="1.0" fill="#861528"/>
<circle cx="54.4" cy="268.8" r="1.0" fill="#861528"/>
<circle cx="55.9" cy="271.7" r="1.0" fill="#861528"/>
<circle cx="57.8" cy="268.8" r="1.0" fill="#861528"/>
<circle cx="60.2" cy="265.5" r="1.0" fill="#861528"/>
<circle cx="62.1" cy="269.8" r="1.0" fill="#861528"/>
<circle cx="64.5" cy="275.6" r="1.0" fill="#861528"/>
<circle cx="66.4" cy="285.2" r="1.0" fill="#861528"/>
<circle cx="69.3" cy="276.5" r="1.0" fill="#861528"/>
<circle cx="74.6" cy="285.2" r="1.0" fill="#861528"/>
<circle cx="76.1" cy="281.3" r="1.0" fill="#861528"/>
<circle cx="79.5" cy="288.3" r="1.0" fill="#861528"/>
<circle cx="85.0" cy="289.4" r="1.0" fill="#861528"/>
<circle cx="90.3" cy="284.3" r="1.0" fill="#861528"/>
<circle cx="95.5" cy="282.0" r="1.0" fill="#861528"/>
<circle cx="106.3" cy="283.8" r="1.0" fill="#861528"/>
<circle cx="111.4" cy="285.5" r="1.0" fill="#861528"/>
<circle cx="179.8" cy="293.3" r="1.0" fill="#861528"/>
<path d="M45.3,291.5 L46.3,281.3 L47.7,273.7 L49.1,265.5 L50.6,268.8 L52.0,260.7 L53.5,267.9 L54.9,259.2 L56.3,263.1 L57.8,259.2 L58.8,260.7 L60.0,255.4 L61.6,260.2 L65.0,268.8 L66.9,276.5 L69.3,269.8 L72.7,276.5 L75.6,273.0 L79.5,279.5 L85.0,279.5 L95.5,274.7 L106.3,278.4 L111.4,277.5 L179.8,284.5" fill="none" stroke="#1f5074" stroke-width="1.1" stroke-linejoin="round"/>
<circle cx="45.3" cy="291.5" r="1.0" fill="#15304c"/>
<circle cx="46.3" cy="281.3" r="1.0" fill="#15304c"/>
<circle cx="47.7" cy="273.7" r="1.0" fill="#15304c"/>
<circle cx="49.1" cy="265.5" r="1.0" fill="#15304c"/>
<circle cx="50.6" cy="268.8" r="1.0" fill="#15304c"/>
<circle cx="52.0" cy="260.7" r="1.0" fill="#15304c"/>
<circle cx="53.5" cy="267.9" r="1.0" fill="#15304c"/>
<circle cx="54.9" cy="259.2" r="1.0" fill="#15304c"/>
<circle cx="56.3" cy="263.1" r="1.0" fill="#15304c"/>
<circle cx="57.8" cy="259.2" r="1.0" fill="#15304c"/>
<circle cx="58.8" cy="260.7" r="1.0" fill="#15304c"/>
<circle cx="60.0" cy="255.4" r="1.0" fill="#15304c"/>
<circle cx="61.6" cy="260.2" r="1.0" fill="#15304c"/>
<circle cx="65.0" cy="268.8" r="1.0" fill="#15304c"/>
<circle cx="66.9" cy="276.5" r="1.0" fill="#15304c"/>
<circle cx="69.3" cy="269.8" r="1.0" fill="#15304c"/>
<circle cx="72.7" cy="276.5" r="1.0" fill="#15304c"/>
<circle cx="75.6" cy="273.0" r="1.0" fill="#15304c"/>
<circle cx="79.5" cy="279.5" r="1.0" fill="#15304c"/>
<circle cx="85.0" cy="279.5" r="1.0" fill="#15304c"/>
<circle cx="95.5" cy="274.7" r="1.0" fill="#15304c"/>
<circle cx="106.3" cy="278.4" r="1.0" fill="#15304c"/>
<circle cx="111.4" cy="277.5" r="1.0" fill="#15304c"/>
<circle cx="179.8" cy="284.5" r="1.0" fill="#15304c"/>
<path d="M325.8,300.0 L327.0,297.0 L328.6,296.3 L329.5,303.0 L330.0,309.0" fill="none" stroke="#55b85a" stroke-width="2.4" stroke-linejoin="round" stroke-linecap="round"/>
<path d="M304.4,320.5 L305.5,321.5 L306.5,318.5 L307.5,321.5 L308.5,320.0 L309.5,321.5 L310.5,320.0 L311.5,321.5 L313.0,320.5" fill="none" stroke="#32124a" stroke-width="4.2" stroke-linejoin="round" stroke-linecap="round"/>
<path d="M316.9,321.5 L318.0,322.5 L319.2,321.5 L320.5,322.5 L322.0,321.0" fill="none" stroke="#32124a" stroke-width="3.6" stroke-linejoin="round" stroke-linecap="round"/>
<path d="M324.6,316.0 L325.6,318.5 L327.0,318.0 L328.2,319.5 L329.5,320.0 L330.2,319.0" fill="none" stroke="#32124a" stroke-width="3.6" stroke-linejoin="round" stroke-linecap="round"/>
<path d="M304.5,320.0 L306.0,317.0 L307.5,321.0 L309.0,318.0 L310.5,321.0 L312.0,318.0 L313.8,316.0 L314.3,290.0 L314.7,250.0 L315.0,226.0 L315.9,226.0 L316.2,250.0 L316.6,290.0 L316.8,306.9 L318.0,312.0 L319.2,316.5 L320.7,307.9 L322.0,314.0 L323.1,316.5 L324.8,265.8 L325.5,290.0 L326.0,304.0 L327.9,297.3 L328.8,299.2 L329.8,308.8 L330.8,310.8 L335.6,312.1 L340.9,311.1 L346.2,313.2 L351.5,310.0 L356.2,302.6 L361.5,312.7 L372.4,313.6 L406.8,313.3 L441.3,308.0 L441.3,301.5 L441.3,309.2" fill="none" stroke="#3a9a44" stroke-width="1.1" stroke-linejoin="round"/>
<circle cx="304.5" cy="320.0" r="1.0" fill="#276a2d"/>
<circle cx="306.0" cy="317.0" r="1.0" fill="#276a2d"/>
<circle cx="307.5" cy="321.0" r="1.0" fill="#276a2d"/>
<circle cx="309.0" cy="318.0" r="1.0" fill="#276a2d"/>
<circle cx="310.5" cy="321.0" r="1.0" fill="#276a2d"/>
<circle cx="312.0" cy="318.0" r="1.0" fill="#276a2d"/>
<circle cx="313.8" cy="316.0" r="1.0" fill="#276a2d"/>
<circle cx="314.3" cy="290.0" r="1.0" fill="#276a2d"/>
<circle cx="314.7" cy="250.0" r="1.0" fill="#276a2d"/>
<circle cx="315.0" cy="226.0" r="1.0" fill="#276a2d"/>
<circle cx="315.9" cy="226.0" r="1.0" fill="#276a2d"/>
<circle cx="316.2" cy="250.0" r="1.0" fill="#276a2d"/>
<circle cx="316.6" cy="290.0" r="1.0" fill="#276a2d"/>
<circle cx="316.8" cy="306.9" r="1.0" fill="#276a2d"/>
<circle cx="318.0" cy="312.0" r="1.0" fill="#276a2d"/>
<circle cx="319.2" cy="316.5" r="1.0" fill="#276a2d"/>
<circle cx="320.7" cy="307.9" r="1.0" fill="#276a2d"/>
<circle cx="322.0" cy="314.0" r="1.0" fill="#276a2d"/>
<circle cx="323.1" cy="316.5" r="1.0" fill="#276a2d"/>
<circle cx="324.8" cy="265.8" r="1.0" fill="#276a2d"/>
<circle cx="325.5" cy="290.0" r="1.0" fill="#276a2d"/>
<circle cx="326.0" cy="304.0" r="1.0" fill="#276a2d"/>
<circle cx="327.9" cy="297.3" r="1.0" fill="#276a2d"/>
<circle cx="328.8" cy="299.2" r="1.0" fill="#276a2d"/>
<circle cx="329.8" cy="308.8" r="1.0" fill="#276a2d"/>
<circle cx="330.8" cy="310.8" r="1.0" fill="#276a2d"/>
<circle cx="335.6" cy="312.1" r="1.0" fill="#276a2d"/>
<circle cx="340.9" cy="311.1" r="1.0" fill="#276a2d"/>
<circle cx="346.2" cy="313.2" r="1.0" fill="#276a2d"/>
<circle cx="351.5" cy="310.0" r="1.0" fill="#276a2d"/>
<circle cx="356.2" cy="302.6" r="1.0" fill="#276a2d"/>
<circle cx="361.5" cy="312.7" r="1.0" fill="#276a2d"/>
<circle cx="372.4" cy="313.6" r="1.0" fill="#276a2d"/>
<circle cx="406.8" cy="313.3" r="1.0" fill="#276a2d"/>
<circle cx="441.3" cy="308.0" r="1.0" fill="#276a2d"/>
<circle cx="441.3" cy="301.5" r="1.0" fill="#276a2d"/>
<circle cx="441.3" cy="309.2" r="1.0" fill="#276a2d"/>
<path d="M304.8,318.5 L305.6,322.0 L306.4,319.0 L307.2,323.0 L308.0,319.5 L308.8,322.5 L309.6,318.5 L310.4,322.0 L311.2,319.0 L312.0,323.0 L313.0,318.5 L314.4,306.0 L315.2,288.0 L315.6,300.0 L316.8,320.4 L318.0,323.0 L319.2,322.3 L320.4,321.0 L321.6,320.4 L322.6,312.0 L323.6,300.7 L324.5,311.7 L325.5,317.5 L326.7,315.0 L327.9,316.5 L329.0,320.0 L330.3,323.3 L335.6,319.4 L340.9,320.9 L345.7,319.4 L351.3,317.6 L356.3,315.6 L361.4,320.6 L372.4,316.2 L406.8,317.5 L441.3,318.0 L441.3,313.8" fill="none" stroke="#4a2a64" stroke-width="1.1" stroke-linejoin="round"/>
<circle cx="304.8" cy="318.5" r="1.0" fill="#32124a"/>
<circle cx="305.6" cy="322.0" r="1.0" fill="#32124a"/>
<circle cx="306.4" cy="319.0" r="1.0" fill="#32124a"/>
<circle cx="307.2" cy="323.0" r="1.0" fill="#32124a"/>
<circle cx="308.0" cy="319.5" r="1.0" fill="#32124a"/>
<circle cx="308.8" cy="322.5" r="1.0" fill="#32124a"/>
<circle cx="309.6" cy="318.5" r="1.0" fill="#32124a"/>
<circle cx="310.4" cy="322.0" r="1.0" fill="#32124a"/>
<circle cx="311.2" cy="319.0" r="1.0" fill="#32124a"/>
<circle cx="312.0" cy="323.0" r="1.0" fill="#32124a"/>
<circle cx="313.0" cy="318.5" r="1.0" fill="#32124a"/>
<circle cx="314.4" cy="306.0" r="1.0" fill="#32124a"/>
<circle cx="315.2" cy="288.0" r="1.0" fill="#32124a"/>
<circle cx="315.6" cy="300.0" r="1.0" fill="#32124a"/>
<circle cx="316.8" cy="320.4" r="1.0" fill="#32124a"/>
<circle cx="318.0" cy="323.0" r="1.0" fill="#32124a"/>
<circle cx="319.2" cy="322.3" r="1.0" fill="#32124a"/>
<circle cx="320.4" cy="321.0" r="1.0" fill="#32124a"/>
<circle cx="321.6" cy="320.4" r="1.0" fill="#32124a"/>
<circle cx="322.6" cy="312.0" r="1.0" fill="#32124a"/>
<circle cx="323.6" cy="300.7" r="1.0" fill="#32124a"/>
<circle cx="324.5" cy="311.7" r="1.0" fill="#32124a"/>
<circle cx="325.5" cy="317.5" r="1.0" fill="#32124a"/>
<circle cx="326.7" cy="315.0" r="1.0" fill="#32124a"/>
<circle cx="327.9" cy="316.5" r="1.0" fill="#32124a"/>
<circle cx="329.0" cy="320.0" r="1.0" fill="#32124a"/>
<circle cx="330.3" cy="323.3" r="1.0" fill="#32124a"/>
<circle cx="335.6" cy="319.4" r="1.0" fill="#32124a"/>
<circle cx="340.9" cy="320.9" r="1.0" fill="#32124a"/>
<circle cx="345.7" cy="319.4" r="1.0" fill="#32124a"/>
<circle cx="351.3" cy="317.6" r="1.0" fill="#32124a"/>
<circle cx="356.3" cy="315.6" r="1.0" fill="#32124a"/>
<circle cx="361.4" cy="320.6" r="1.0" fill="#32124a"/>
<circle cx="372.4" cy="316.2" r="1.0" fill="#32124a"/>
<circle cx="406.8" cy="317.5" r="1.0" fill="#32124a"/>
<circle cx="441.3" cy="318.0" r="1.0" fill="#32124a"/>
<circle cx="441.3" cy="313.8" r="1.0" fill="#32124a"/>
<path d="M307.7,273.1 L309.2,266.9 L310.4,263.1 L311.9,263.8 L314.2,261.9 L316.5,261.5 L318.5,262.3 L320.0,268.5 L321.9,273.1 L323.8,277.7 L325.0,282.0 L328.2,286.2 L330.3,283.0 L332.4,276.2 L334.0,284.6 L335.6,292.6 L337.7,283.0 L339.8,289.4 L340.9,280.4 L342.5,286.7 L344.0,288.9 L345.6,285.7 L347.8,284.1 L349.3,285.7 L356.2,300.0 L361.0,288.9 L363.1,289.9 L365.7,284.1 L367.3,286.7 L370.0,291.5 L373.7,300.5 L374.7,301.6 L398.8,332.2 L406.8,332.2 L441.3,332.2" fill="none" stroke="#bc243c" stroke-width="1.1" stroke-linejoin="round"/>
<circle cx="307.7" cy="273.1" r="1.0" fill="#861528"/>
<circle cx="309.2" cy="266.9" r="1.0" fill="#861528"/>
<circle cx="310.4" cy="263.1" r="1.0" fill="#861528"/>
<circle cx="311.9" cy="263.8" r="1.0" fill="#861528"/>
<circle cx="314.2" cy="261.9" r="1.0" fill="#861528"/>
<circle cx="316.5" cy="261.5" r="1.0" fill="#861528"/>
<circle cx="318.5" cy="262.3" r="1.0" fill="#861528"/>
<circle cx="320.0" cy="268.5" r="1.0" fill="#861528"/>
<circle cx="321.9" cy="273.1" r="1.0" fill="#861528"/>
<circle cx="323.8" cy="277.7" r="1.0" fill="#861528"/>
<circle cx="325.0" cy="282.0" r="1.0" fill="#861528"/>
<circle cx="328.2" cy="286.2" r="1.0" fill="#861528"/>
<circle cx="330.3" cy="283.0" r="1.0" fill="#861528"/>
<circle cx="332.4" cy="276.2" r="1.0" fill="#861528"/>
<circle cx="334.0" cy="284.6" r="1.0" fill="#861528"/>
<circle cx="335.6" cy="292.6" r="1.0" fill="#861528"/>
<circle cx="337.7" cy="283.0" r="1.0" fill="#861528"/>
<circle cx="339.8" cy="289.4" r="1.0" fill="#861528"/>
<circle cx="340.9" cy="280.4" r="1.0" fill="#861528"/>
<circle cx="342.5" cy="286.7" r="1.0" fill="#861528"/>
<circle cx="344.0" cy="288.9" r="1.0" fill="#861528"/>
<circle cx="345.6" cy="285.7" r="1.0" fill="#861528"/>
<circle cx="347.8" cy="284.1" r="1.0" fill="#861528"/>
<circle cx="349.3" cy="285.7" r="1.0" fill="#861528"/>
<circle cx="356.2" cy="300.0" r="1.0" fill="#861528"/>
<circle cx="361.0" cy="288.9" r="1.0" fill="#861528"/>
<circle cx="363.1" cy="289.9" r="1.0" fill="#861528"/>
<circle cx="365.7" cy="284.1" r="1.0" fill="#861528"/>
<circle cx="367.3" cy="286.7" r="1.0" fill="#861528"/>
<circle cx="370.0" cy="291.5" r="1.0" fill="#861528"/>
<circle cx="373.7" cy="300.5" r="1.0" fill="#861528"/>
<circle cx="374.7" cy="301.6" r="1.0" fill="#861528"/>
<circle cx="398.8" cy="332.2" r="1.0" fill="#861528"/>
<circle cx="406.8" cy="332.2" r="1.0" fill="#861528"/>
<circle cx="441.3" cy="332.2" r="1.0" fill="#861528"/>
<path d="M307.7,267.7 L308.8,260.0 L310.4,255.4 L311.5,253.5 L313.1,254.6 L315.0,252.3 L316.5,254.6 L318.5,254.2 L320.0,261.5 L322.3,266.9 L324.2,270.0 L325.0,275.6 L327.1,277.8 L329.8,276.2 L332.4,267.2 L333.5,274.0 L335.0,280.4 L336.1,278.8 L338.2,276.7 L340.9,270.3 L342.5,276.2 L344.6,278.3 L345.6,275.6 L347.8,276.7 L348.8,278.3 L356.2,298.4 L361.5,282.5 L363.1,282.0 L365.7,278.8 L367.3,279.9 L373.1,293.6 L374.7,294.7 L375.8,293.6 L398.8,310.4 L406.8,309.7 L441.3,307.4 L441.3,306.5" fill="none" stroke="#1f5074" stroke-width="1.1" stroke-linejoin="round"/>
<circle cx="307.7" cy="267.7" r="1.0" fill="#15304c"/>
<circle cx="308.8" cy="260.0" r="1.0" fill="#15304c"/>
<circle cx="310.4" cy="255.4" r="1.0" fill="#15304c"/>
<circle cx="311.5" cy="253.5" r="1.0" fill="#15304c"/>
<circle cx="313.1" cy="254.6" r="1.0" fill="#15304c"/>
<circle cx="315.0" cy="252.3" r="1.0" fill="#15304c"/>
<circle cx="316.5" cy="254.6" r="1.0" fill="#15304c"/>
<circle cx="318.5" cy="254.2" r="1.0" fill="#15304c"/>
<circle cx="320.0" cy="261.5" r="1.0" fill="#15304c"/>
<circle cx="322.3" cy="266.9" r="1.0" fill="#15304c"/>
<circle cx="324.2" cy="270.0" r="1.0" fill="#15304c"/>
<circle cx="325.0" cy="275.6" r="1.0" fill="#15304c"/>
<circle cx="327.1" cy="277.8" r="1.0" fill="#15304c"/>
<circle cx="329.8" cy="276.2" r="1.0" fill="#15304c"/>
<circle cx="332.4" cy="267.2" r="1.0" fill="#15304c"/>
<circle cx="333.5" cy="274.0" r="1.0" fill="#15304c"/>
<circle cx="335.0" cy="280.4" r="1.0" fill="#15304c"/>
<circle cx="336.1" cy="278.8" r="1.0" fill="#15304c"/>
<circle cx="338.2" cy="276.7" r="1.0" fill="#15304c"/>
<circle cx="340.9" cy="270.3" r="1.0" fill="#15304c"/>
<circle cx="342.5" cy="276.2" r="1.0" fill="#15304c"/>
<circle cx="344.6" cy="278.3" r="1.0" fill="#15304c"/>
<circle cx="345.6" cy="275.6" r="1.0" fill="#15304c"/>
<circle cx="347.8" cy="276.7" r="1.0" fill="#15304c"/>
<circle cx="348.8" cy="278.3" r="1.0" fill="#15304c"/>
<circle cx="356.2" cy="298.4" r="1.0" fill="#15304c"/>
<circle cx="361.5" cy="282.5" r="1.0" fill="#15304c"/>
<circle cx="363.1" cy="282.0" r="1.0" fill="#15304c"/>
<circle cx="365.7" cy="278.8" r="1.0" fill="#15304c"/>
<circle cx="367.3" cy="279.9" r="1.0" fill="#15304c"/>
<circle cx="373.1" cy="293.6" r="1.0" fill="#15304c"/>
<circle cx="374.7" cy="294.7" r="1.0" fill="#15304c"/>
<circle cx="375.8" cy="293.6" r="1.0" fill="#15304c"/>
<circle cx="398.8" cy="310.4" r="1.0" fill="#15304c"/>
<circle cx="406.8" cy="309.7" r="1.0" fill="#15304c"/>
<circle cx="441.3" cy="307.4" r="1.0" fill="#15304c"/>
<circle cx="441.3" cy="306.5" r="1.0" fill="#15304c"/>
<path d="M313.70,224.00 L315.70,224.00 L315.00,225.70 L314.95,226.90 L314.45,226.90 L314.40,225.70 Z" fill="#4e4878"/>
<rect x="347.30" y="228.00" width="3.0" height="4.4" rx="1.2" fill="#fcd98e"/><path d="M348.80,228.30 L349.70,229.70 L349.50,232.10 L348.10,232.10 L347.90,229.70 Z" fill="#c08a3a"/>
<path d="M359.20,224.10 L361.20,224.10 L360.50,225.80 L360.45,227.00 L359.95,227.00 L359.90,225.80 Z" fill="#4e4878"/>
<rect x="368.30" y="228.00" width="3.0" height="4.4" rx="1.2" fill="#fcd98e"/><path d="M369.80,228.30 L370.70,229.70 L370.50,232.10 L369.10,232.10 L368.90,229.70 Z" fill="#c08a3a"/>
<text x="309.80" y="229.80" font-size="6.4" text-anchor="middle" fill="#3a3a3a" stroke="#3a3a3a" stroke-width="0.18" textLength="8.00" lengthAdjust="spacingAndGlyphs">(8)</text>
<text x="348.60" y="239.10" font-size="6.4" text-anchor="middle" fill="#3a3a3a" stroke="#3a3a3a" stroke-width="0.18" textLength="10.80" lengthAdjust="spacingAndGlyphs">(34)</text>
<text x="361.30" y="233.30" font-size="6.4" text-anchor="middle" fill="#3a3a3a" stroke="#3a3a3a" stroke-width="0.18" textLength="11.00" lengthAdjust="spacingAndGlyphs">(43)</text>
<text x="374.10" y="239.10" font-size="6.4" text-anchor="middle" fill="#3a3a3a" stroke="#3a3a3a" stroke-width="0.18" textLength="10.90" lengthAdjust="spacingAndGlyphs">(50)</text>
<path d="M183.5,499.5 L185.0,500.0 L186.5,501.0 L188.0,501.5 L189.9,502.0" fill="none" stroke="#55b85a" stroke-width="2.2" stroke-linejoin="round" stroke-linecap="round"/>
<path d="M200.0,493.0 L200.3,481.2 L201.2,481.2 L201.8,492.0" fill="none" stroke="#55b85a" stroke-width="1.5" stroke-linejoin="round" stroke-linecap="round"/>
<path d="M176.1,505.0 L177.6,503.0 L179.2,503.5 L180.8,502.5 L182.5,503.0 L184.0,503.5 L185.5,504.5 L187.0,505.5 L188.4,506.8 L190.0,506.5 L191.5,505.8 L193.0,503.5 L194.6,501.5 L196.2,500.8 L197.8,500.0 L199.3,499.5 L200.0,499.0" fill="none" stroke="#32124a" stroke-width="4.2" stroke-linejoin="round" stroke-linecap="round"/>
<path d="M176.5,507.0 L178.2,504.0 L179.9,506.5 L181.7,501.0 L183.4,498.8 L185.1,501.0 L186.8,501.1 L188.6,503.0 L190.3,503.4 L192.0,502.0 L194.0,500.0 L196.1,501.1 L198.0,499.0 L200.1,497.7 L200.7,480.4 L201.3,494.2 L203.0,493.0 L207.0,503.4 L212.2,504.6 L217.4,497.7 L222.6,502.9 L227.9,503.2 L232.7,501.2 L238.5,490.6 L244.2,497.7 L312.5,504.0" fill="none" stroke="#3a9a44" stroke-width="1.1" stroke-linejoin="round"/>
<circle cx="176.5" cy="507.0" r="1.0" fill="#276a2d"/>
<circle cx="178.2" cy="504.0" r="1.0" fill="#276a2d"/>
<circle cx="179.9" cy="506.5" r="1.0" fill="#276a2d"/>
<circle cx="181.7" cy="501.0" r="1.0" fill="#276a2d"/>
<circle cx="183.4" cy="498.8" r="1.0" fill="#276a2d"/>
<circle cx="185.1" cy="501.0" r="1.0" fill="#276a2d"/>
<circle cx="186.8" cy="501.1" r="1.0" fill="#276a2d"/>
<circle cx="188.6" cy="503.0" r="1.0" fill="#276a2d"/>
<circle cx="190.3" cy="503.4" r="1.0" fill="#276a2d"/>
<circle cx="192.0" cy="502.0" r="1.0" fill="#276a2d"/>
<circle cx="194.0" cy="500.0" r="1.0" fill="#276a2d"/>
<circle cx="196.1" cy="501.1" r="1.0" fill="#276a2d"/>
<circle cx="198.0" cy="499.0" r="1.0" fill="#276a2d"/>
<circle cx="200.1" cy="497.7" r="1.0" fill="#276a2d"/>
<circle cx="200.7" cy="480.4" r="1.0" fill="#276a2d"/>
<circle cx="201.3" cy="494.2" r="1.0" fill="#276a2d"/>
<circle cx="203.0" cy="493.0" r="1.0" fill="#276a2d"/>
<circle cx="207.0" cy="503.4" r="1.0" fill="#276a2d"/>
<circle cx="212.2" cy="504.6" r="1.0" fill="#276a2d"/>
<circle cx="217.4" cy="497.7" r="1.0" fill="#276a2d"/>
<circle cx="222.6" cy="502.9" r="1.0" fill="#276a2d"/>
<circle cx="227.9" cy="503.2" r="1.0" fill="#276a2d"/>
<circle cx="232.7" cy="501.2" r="1.0" fill="#276a2d"/>
<circle cx="238.5" cy="490.6" r="1.0" fill="#276a2d"/>
<circle cx="244.2" cy="497.7" r="1.0" fill="#276a2d"/>
<circle cx="312.5" cy="504.0" r="1.0" fill="#276a2d"/>
<path d="M176.5,506.9 L177.3,503.0 L178.2,503.4 L179.0,506.0 L179.9,505.8 L180.8,502.0 L181.7,502.3 L182.5,505.0 L183.4,504.6 L184.2,502.0 L185.1,503.4 L186.0,507.0 L186.8,506.9 L187.7,505.0 L188.6,508.6 L189.4,505.0 L190.3,506.9 L191.1,504.0 L192.0,505.8 L192.9,502.0 L193.8,503.4 L194.6,500.0 L195.5,501.1 L196.4,499.0 L197.2,500.0 L198.1,497.0 L199.0,498.8 L200.1,497.7 L200.7,504.0 L207.0,505.2 L212.2,505.2 L217.4,497.1 L222.6,503.4 L227.9,502.6 L232.7,502.1 L238.5,498.7 L244.2,502.1 L312.5,504.6" fill="none" stroke="#4a2a64" stroke-width="1.1" stroke-linejoin="round"/>
<circle cx="176.5" cy="506.9" r="1.0" fill="#32124a"/>
<circle cx="177.3" cy="503.0" r="1.0" fill="#32124a"/>
<circle cx="178.2" cy="503.4" r="1.0" fill="#32124a"/>
<circle cx="179.0" cy="506.0" r="1.0" fill="#32124a"/>
<circle cx="179.9" cy="505.8" r="1.0" fill="#32124a"/>
<circle cx="180.8" cy="502.0" r="1.0" fill="#32124a"/>
<circle cx="181.7" cy="502.3" r="1.0" fill="#32124a"/>
<circle cx="182.5" cy="505.0" r="1.0" fill="#32124a"/>
<circle cx="183.4" cy="504.6" r="1.0" fill="#32124a"/>
<circle cx="184.2" cy="502.0" r="1.0" fill="#32124a"/>
<circle cx="185.1" cy="503.4" r="1.0" fill="#32124a"/>
<circle cx="186.0" cy="507.0" r="1.0" fill="#32124a"/>
<circle cx="186.8" cy="506.9" r="1.0" fill="#32124a"/>
<circle cx="187.7" cy="505.0" r="1.0" fill="#32124a"/>
<circle cx="188.6" cy="508.6" r="1.0" fill="#32124a"/>
<circle cx="189.4" cy="505.0" r="1.0" fill="#32124a"/>
<circle cx="190.3" cy="506.9" r="1.0" fill="#32124a"/>
<circle cx="191.1" cy="504.0" r="1.0" fill="#32124a"/>
<circle cx="192.0" cy="505.8" r="1.0" fill="#32124a"/>
<circle cx="192.9" cy="502.0" r="1.0" fill="#32124a"/>
<circle cx="193.8" cy="503.4" r="1.0" fill="#32124a"/>
<circle cx="194.6" cy="500.0" r="1.0" fill="#32124a"/>
<circle cx="195.5" cy="501.1" r="1.0" fill="#32124a"/>
<circle cx="196.4" cy="499.0" r="1.0" fill="#32124a"/>
<circle cx="197.2" cy="500.0" r="1.0" fill="#32124a"/>
<circle cx="198.1" cy="497.0" r="1.0" fill="#32124a"/>
<circle cx="199.0" cy="498.8" r="1.0" fill="#32124a"/>
<circle cx="200.1" cy="497.7" r="1.0" fill="#32124a"/>
<circle cx="200.7" cy="504.0" r="1.0" fill="#32124a"/>
<circle cx="207.0" cy="505.2" r="1.0" fill="#32124a"/>
<circle cx="212.2" cy="505.2" r="1.0" fill="#32124a"/>
<circle cx="217.4" cy="497.1" r="1.0" fill="#32124a"/>
<circle cx="222.6" cy="503.4" r="1.0" fill="#32124a"/>
<circle cx="227.9" cy="502.6" r="1.0" fill="#32124a"/>
<circle cx="232.7" cy="502.1" r="1.0" fill="#32124a"/>
<circle cx="238.5" cy="498.7" r="1.0" fill="#32124a"/>
<circle cx="244.2" cy="502.1" r="1.0" fill="#32124a"/>
<circle cx="312.5" cy="504.6" r="1.0" fill="#32124a"/>
<path d="M175.3,452.6 L176.7,490.9 L178.2,471.5 L180.3,465.2 L182.4,455.7 L183.5,454.7 L184.5,479.9 L186.1,453.6 L187.7,448.4 L189.3,445.2 L191.4,450.0 L193.5,453.1 L195.6,453.1 L197.1,450.0 L198.7,452.1 L200.8,447.3 L202.4,450.5 L204.5,446.3 L207.1,449.4 L209.2,452.6 L211.3,450.5 L213.0,451.5 L215.0,451.9 L217.9,452.5 L222.5,454.8 L227.9,454.5 L233.5,453.9 L238.6,458.3 L243.3,459.4 L247.3,462.9 L249.6,469.2 L253.6,473.6 L258.3,473.8 L269.2,460.9 L288.6,470.1 L293.8,467.5 L300.8,468.6 L312.5,474.8" fill="none" stroke="#bc243c" stroke-width="1.1" stroke-linejoin="round"/>
<circle cx="175.3" cy="452.6" r="1.0" fill="#861528"/>
<circle cx="176.7" cy="490.9" r="1.0" fill="#861528"/>
<circle cx="178.2" cy="471.5" r="1.0" fill="#861528"/>
<circle cx="180.3" cy="465.2" r="1.0" fill="#861528"/>
<circle cx="182.4" cy="455.7" r="1.0" fill="#861528"/>
<circle cx="183.5" cy="454.7" r="1.0" fill="#861528"/>
<circle cx="184.5" cy="479.9" r="1.0" fill="#861528"/>
<circle cx="186.1" cy="453.6" r="1.0" fill="#861528"/>
<circle cx="187.7" cy="448.4" r="1.0" fill="#861528"/>
<circle cx="189.3" cy="445.2" r="1.0" fill="#861528"/>
<circle cx="191.4" cy="450.0" r="1.0" fill="#861528"/>
<circle cx="193.5" cy="453.1" r="1.0" fill="#861528"/>
<circle cx="195.6" cy="453.1" r="1.0" fill="#861528"/>
<circle cx="197.1" cy="450.0" r="1.0" fill="#861528"/>
<circle cx="198.7" cy="452.1" r="1.0" fill="#861528"/>
<circle cx="200.8" cy="447.3" r="1.0" fill="#861528"/>
<circle cx="202.4" cy="450.5" r="1.0" fill="#861528"/>
<circle cx="204.5" cy="446.3" r="1.0" fill="#861528"/>
<circle cx="207.1" cy="449.4" r="1.0" fill="#861528"/>
<circle cx="209.2" cy="452.6" r="1.0" fill="#861528"/>
<circle cx="211.3" cy="450.5" r="1.0" fill="#861528"/>
<circle cx="213.0" cy="451.5" r="1.0" fill="#861528"/>
<circle cx="215.0" cy="451.9" r="1.0" fill="#861528"/>
<circle cx="217.9" cy="452.5" r="1.0" fill="#861528"/>
<circle cx="222.5" cy="454.8" r="1.0" fill="#861528"/>
<circle cx="227.9" cy="454.5" r="1.0" fill="#861528"/>
<circle cx="233.5" cy="453.9" r="1.0" fill="#861528"/>
<circle cx="238.6" cy="458.3" r="1.0" fill="#861528"/>
<circle cx="243.3" cy="459.4" r="1.0" fill="#861528"/>
<circle cx="247.3" cy="462.9" r="1.0" fill="#861528"/>
<circle cx="249.6" cy="469.2" r="1.0" fill="#861528"/>
<circle cx="253.6" cy="473.6" r="1.0" fill="#861528"/>
<circle cx="258.3" cy="473.8" r="1.0" fill="#861528"/>
<circle cx="269.2" cy="460.9" r="1.0" fill="#861528"/>
<circle cx="288.6" cy="470.1" r="1.0" fill="#861528"/>
<circle cx="293.8" cy="467.5" r="1.0" fill="#861528"/>
<circle cx="300.8" cy="468.6" r="1.0" fill="#861528"/>
<circle cx="312.5" cy="474.8" r="1.0" fill="#861528"/>
<path d="M175.3,454.7 L176.7,473.6 L178.2,468.3 L180.3,461.0 L182.4,453.6 L183.5,447.3 L184.5,454.7 L186.1,445.2 L187.4,444.0 L188.9,436.3 L189.8,436.8 L191.3,442.6 L193.7,444.5 L196.1,444.0 L198.5,438.3 L199.9,438.3 L201.4,443.1 L202.8,438.3 L204.3,439.2 L206.2,442.1 L208.6,445.5 L210.0,442.6 L212.0,439.7 L213.4,445.0 L217.2,446.0 L222.5,445.9 L227.9,441.3 L233.5,446.7 L239.2,451.9 L243.8,453.6 L247.9,457.7 L249.6,464.0 L253.6,465.8 L258.3,467.1 L269.2,455.4 L288.6,464.8 L293.8,462.5 L300.8,460.2 L312.5,466.0" fill="none" stroke="#1f5074" stroke-width="1.1" stroke-linejoin="round"/>
<circle cx="175.3" cy="454.7" r="1.0" fill="#15304c"/>
<circle cx="176.7" cy="473.6" r="1.0" fill="#15304c"/>
<circle cx="178.2" cy="468.3" r="1.0" fill="#15304c"/>
<circle cx="180.3" cy="461.0" r="1.0" fill="#15304c"/>
<circle cx="182.4" cy="453.6" r="1.0" fill="#15304c"/>
<circle cx="183.5" cy="447.3" r="1.0" fill="#15304c"/>
<circle cx="184.5" cy="454.7" r="1.0" fill="#15304c"/>
<circle cx="186.1" cy="445.2" r="1.0" fill="#15304c"/>
<circle cx="187.4" cy="444.0" r="1.0" fill="#15304c"/>
<circle cx="188.9" cy="436.3" r="1.0" fill="#15304c"/>
<circle cx="189.8" cy="436.8" r="1.0" fill="#15304c"/>
<circle cx="191.3" cy="442.6" r="1.0" fill="#15304c"/>
<circle cx="193.7" cy="444.5" r="1.0" fill="#15304c"/>
<circle cx="196.1" cy="444.0" r="1.0" fill="#15304c"/>
<circle cx="198.5" cy="438.3" r="1.0" fill="#15304c"/>
<circle cx="199.9" cy="438.3" r="1.0" fill="#15304c"/>
<circle cx="201.4" cy="443.1" r="1.0" fill="#15304c"/>
<circle cx="202.8" cy="438.3" r="1.0" fill="#15304c"/>
<circle cx="204.3" cy="439.2" r="1.0" fill="#15304c"/>
<circle cx="206.2" cy="442.1" r="1.0" fill="#15304c"/>
<circle cx="208.6" cy="445.5" r="1.0" fill="#15304c"/>
<circle cx="210.0" cy="442.6" r="1.0" fill="#15304c"/>
<circle cx="212.0" cy="439.7" r="1.0" fill="#15304c"/>
<circle cx="213.4" cy="445.0" r="1.0" fill="#15304c"/>
<circle cx="217.2" cy="446.0" r="1.0" fill="#15304c"/>
<circle cx="222.5" cy="445.9" r="1.0" fill="#15304c"/>
<circle cx="227.9" cy="441.3" r="1.0" fill="#15304c"/>
<circle cx="233.5" cy="446.7" r="1.0" fill="#15304c"/>
<circle cx="239.2" cy="451.9" r="1.0" fill="#15304c"/>
<circle cx="243.8" cy="453.6" r="1.0" fill="#15304c"/>
<circle cx="247.9" cy="457.7" r="1.0" fill="#15304c"/>
<circle cx="249.6" cy="464.0" r="1.0" fill="#15304c"/>
<circle cx="253.6" cy="465.8" r="1.0" fill="#15304c"/>
<circle cx="258.3" cy="467.1" r="1.0" fill="#15304c"/>
<circle cx="269.2" cy="455.4" r="1.0" fill="#15304c"/>
<circle cx="288.6" cy="464.8" r="1.0" fill="#15304c"/>
<circle cx="293.8" cy="462.5" r="1.0" fill="#15304c"/>
<circle cx="300.8" cy="460.2" r="1.0" fill="#15304c"/>
<circle cx="312.5" cy="466.0" r="1.0" fill="#15304c"/>
<path d="M181.10,407.50 L183.10,407.50 L182.40,409.20 L182.35,410.40 L181.85,410.40 L181.80,409.20 Z" fill="#4e4878"/>
<rect x="181.90" y="411.70" width="3.0" height="4.4" rx="1.2" fill="#fcd98e"/><path d="M183.40,412.00 L184.30,413.40 L184.10,415.80 L182.70,415.80 L182.50,413.40 Z" fill="#c08a3a"/>
<path d="M185.00,407.50 L187.00,407.50 L186.30,409.20 L186.25,410.40 L185.75,410.40 L185.70,409.20 Z" fill="#4e4878"/>
<rect x="195.10" y="411.50" width="3.0" height="4.4" rx="1.2" fill="#fcd98e"/><path d="M196.60,411.80 L197.50,413.20 L197.30,415.60 L195.90,415.60 L195.70,413.20 Z" fill="#c08a3a"/>
<path d="M200.40,407.70 L202.40,407.70 L201.70,409.40 L201.65,410.60 L201.15,410.60 L201.10,409.40 Z" fill="#4e4878"/>
<rect x="212.40" y="411.70" width="3.0" height="4.4" rx="1.2" fill="#fcd98e"/><path d="M213.90,412.00 L214.80,413.40 L214.60,415.80 L213.20,415.80 L213.00,413.40 Z" fill="#c08a3a"/>
<text x="177.80" y="413.50" font-size="6.4" text-anchor="middle" fill="#3a3a3a" stroke="#3a3a3a" stroke-width="0.18" textLength="7.20" lengthAdjust="spacingAndGlyphs">(5)</text>
<text x="184.80" y="423.10" font-size="6.4" text-anchor="middle" fill="#3a3a3a" stroke="#3a3a3a" stroke-width="0.18" textLength="6.60" lengthAdjust="spacingAndGlyphs">(6)</text>
<text x="190.50" y="410.80" font-size="6.4" text-anchor="middle" fill="#3a3a3a" stroke="#3a3a3a" stroke-width="0.18" textLength="8.40" lengthAdjust="spacingAndGlyphs">(8)</text>
<text x="196.80" y="423.10" font-size="6.4" text-anchor="middle" fill="#3a3a3a" stroke="#3a3a3a" stroke-width="0.18" textLength="10.40" lengthAdjust="spacingAndGlyphs">(16)</text>
<text x="206.40" y="416.80" font-size="6.4" text-anchor="middle" fill="#3a3a3a" stroke="#3a3a3a" stroke-width="0.18" textLength="10.40" lengthAdjust="spacingAndGlyphs">(20)</text>
<text x="217.90" y="423.10" font-size="6.4" text-anchor="middle" fill="#3a3a3a" stroke="#3a3a3a" stroke-width="0.18" textLength="10.40" lengthAdjust="spacingAndGlyphs">(29)</text>
<path d="M149.2,553.6 H164.6" stroke="#bc243c" stroke-width="1.1"/>
<circle cx="157.2" cy="553.6" r="1.35" fill="#861528"/>
<text x="167.90" y="556.40" font-size="7.9" text-anchor="start" fill="#2a2a2a" stroke="#2a2a2a" stroke-width="0.1" textLength="40.00" lengthAdjust="spacingAndGlyphs">Chromogenic</text>
<path d="M216.7,553.6 H232.1" stroke="#1f5074" stroke-width="1.1"/>
<circle cx="225.0" cy="553.6" r="1.35" fill="#15304c"/>
<text x="235.00" y="556.40" font-size="7.9" text-anchor="start" fill="#2a2a2a" stroke="#2a2a2a" stroke-width="0.1" textLength="31.70" lengthAdjust="spacingAndGlyphs">One-stage</text>
<path d="M303.7,553.6 H319.0" stroke="#3a9a44" stroke-width="1.1"/>
<circle cx="312.0" cy="553.6" r="1.35" fill="#276a2d"/>
<text x="322.00" y="556.40" font-size="7.9" text-anchor="start" fill="#2a2a2a" stroke="#2a2a2a" stroke-width="0.1" textLength="11.50" lengthAdjust="spacingAndGlyphs">ALT</text>
<path d="M149.2,561.3 H164.6" stroke="#4a2a64" stroke-width="1.1"/>
<circle cx="157.2" cy="561.3" r="1.35" fill="#32124a"/>
<text x="167.90" y="564.10" font-size="7.9" text-anchor="start" fill="#2a2a2a" stroke="#2a2a2a" stroke-width="0.1" textLength="11.70" lengthAdjust="spacingAndGlyphs">AST</text>
<path d="M224.00,559.80 L226.00,559.80 L225.30,561.50 L225.25,562.70 L224.75,562.70 L224.70,561.50 Z" fill="#4e4878"/>
<text x="235.00" y="564.10" font-size="7.9" text-anchor="start" fill="#2a2a2a" stroke="#2a2a2a" stroke-width="0.1" textLength="58.00" lengthAdjust="spacingAndGlyphs">Steroid start (week)</text>
<rect x="310.50" y="559.00" width="3.0" height="4.4" rx="1.2" fill="#fcd98e"/><path d="M312.00,559.30 L312.90,560.70 L312.70,563.10 L311.30,563.10 L311.10,560.70 Z" fill="#c08a3a"/>
<text x="322.00" y="564.10" font-size="7.9" text-anchor="start" fill="#2a2a2a" stroke="#2a2a2a" stroke-width="0.1" textLength="56.00" lengthAdjust="spacingAndGlyphs">Steroid end (week)</text>
<rect x="0.5" y="0.5" width="519" height="571" fill="none" stroke="#555" stroke-width="1.1"/>
</svg>
</body></html>
